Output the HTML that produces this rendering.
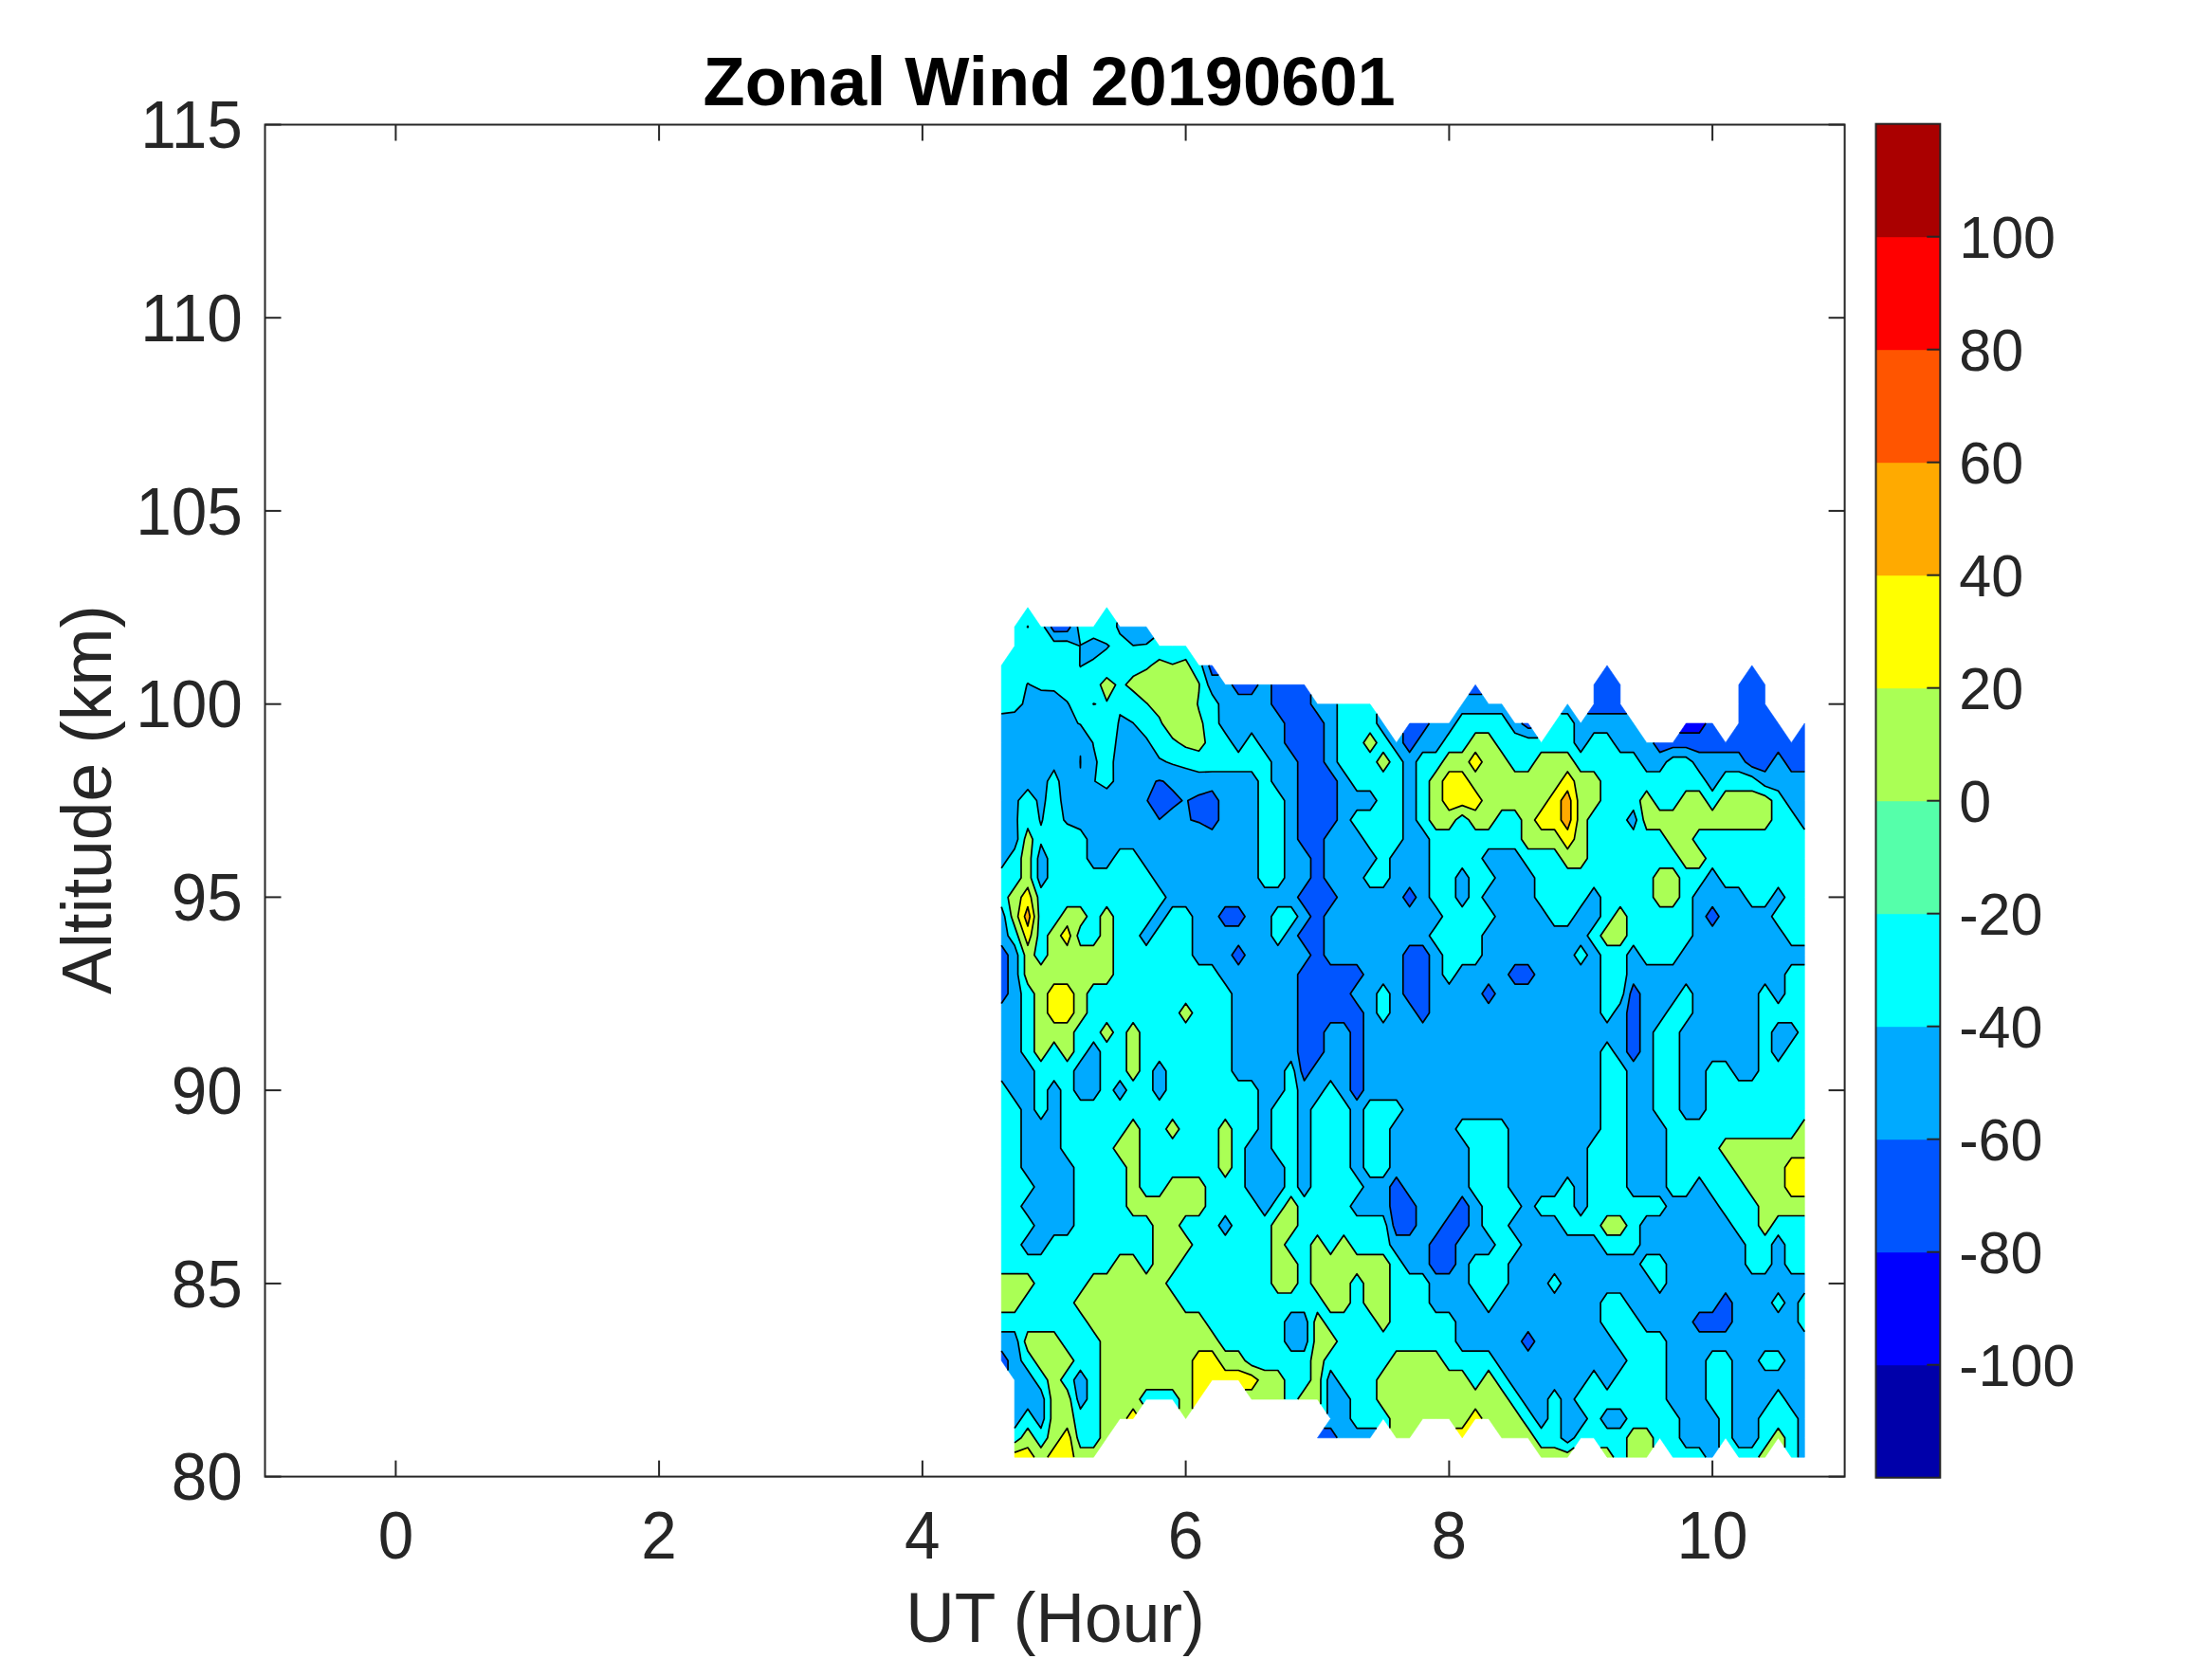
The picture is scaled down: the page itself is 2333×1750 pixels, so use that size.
<!DOCTYPE html>
<html><head><meta charset="utf-8"><title>Zonal Wind 20190601</title>
<style>
html,body{margin:0;padding:0;background:#fff;}
svg{display:block;}
.t{font-family:"Liberation Sans",Arial,sans-serif;font-size:67.5px;fill:#262626;}
.l{font-family:"Liberation Sans",Arial,sans-serif;font-size:74.2px;fill:#262626;}
.c{font-family:"Liberation Sans",Arial,sans-serif;font-size:60.7px;fill:#262626;}
.ti{font-family:"Liberation Sans",Arial,sans-serif;font-size:74.2px;font-weight:bold;fill:#000;}
</style></head><body>
<svg xmlns="http://www.w3.org/2000/svg" width="2333" height="1750" viewBox="0 0 2333 1750">
<rect width="2333" height="1750" fill="#fff"/>
<path d="M1778.3 773.2L1792.2 773.2L1799.2 763.0L1792.2 763.0L1778.3 763.0L1771.4 773.2Z" fill="#0000FF" fill-rule="evenodd" stroke="#0000FF" stroke-width="0.6"/>
<path d="M1403.4 1516.8L1410.3 1516.8L1403.4 1506.6L1396.4 1506.6L1389.5 1516.8ZM1063.1 1435.3L1056.2 1425.1L1056.2 1435.3L1063.1 1445.5ZM1611.7 1425.1L1618.6 1415.0L1611.7 1404.8L1604.7 1415.0ZM1792.2 1404.8L1806.1 1404.8L1820.0 1404.8L1826.9 1394.6L1826.9 1374.2L1820.0 1364.0L1813.0 1374.2L1806.1 1384.4L1792.2 1384.4L1785.3 1394.6ZM1514.5 1343.7L1528.4 1343.7L1535.3 1333.5L1535.3 1313.1L1542.2 1302.9L1549.2 1292.7L1549.2 1272.4L1542.2 1262.2L1535.3 1272.4L1528.4 1282.5L1521.4 1292.7L1514.5 1302.9L1507.5 1313.1L1507.5 1333.5ZM1472.8 1302.9L1486.7 1302.9L1493.6 1292.7L1493.6 1272.4L1486.7 1262.2L1479.8 1252.0L1472.8 1241.8L1465.9 1252.0L1465.9 1272.4L1469.3 1292.7ZM1431.1 1160.3L1438.1 1150.1L1438.1 1129.7L1438.1 1109.4L1438.1 1089.0L1438.1 1068.6L1431.1 1058.4L1424.2 1048.2L1431.1 1038.1L1438.1 1027.9L1431.1 1017.7L1417.3 1017.7L1403.4 1017.7L1396.4 1007.5L1396.4 987.1L1396.4 966.8L1403.4 956.6L1410.3 946.4L1403.4 936.2L1396.4 926.0L1396.4 905.6L1396.4 885.3L1403.4 875.1L1410.3 864.9L1410.3 844.5L1410.3 824.1L1403.4 814.0L1396.4 803.8L1396.4 783.4L1396.4 763.0L1389.5 752.8L1382.5 742.7L1382.5 732.5L1375.6 722.3L1361.7 722.3L1347.8 722.3L1340.9 722.3L1340.9 742.7L1347.8 752.8L1354.8 763.0L1354.8 783.4L1361.7 793.6L1368.7 803.8L1368.7 824.1L1368.7 844.5L1368.7 864.9L1368.7 885.3L1375.6 895.5L1382.5 905.6L1382.5 926.0L1375.6 936.2L1368.7 946.4L1375.6 956.6L1382.5 966.8L1375.6 976.9L1368.7 987.1L1375.6 997.3L1382.5 1007.5L1375.6 1017.7L1368.7 1027.9L1368.7 1048.2L1368.7 1068.6L1368.7 1089.0L1368.7 1109.4L1372.1 1129.7L1375.6 1139.9L1382.5 1129.7L1389.5 1119.6L1396.4 1109.4L1396.4 1089.0L1403.4 1078.8L1417.3 1078.8L1424.2 1089.0L1424.2 1109.4L1424.2 1129.7L1424.2 1150.1ZM1722.8 1119.6L1729.7 1109.4L1729.7 1089.0L1729.7 1068.6L1729.7 1048.2L1722.8 1038.1L1719.3 1048.2L1715.8 1068.6L1715.8 1089.0L1715.8 1109.4ZM1500.6 1078.8L1507.5 1068.6L1507.5 1048.2L1507.5 1027.9L1507.5 1007.5L1500.6 997.3L1486.7 997.3L1479.8 1007.5L1479.8 1027.9L1479.8 1048.2L1486.7 1058.4L1493.6 1068.6ZM1063.1 1048.2L1063.1 1027.9L1063.1 1007.5L1056.2 997.3L1056.2 1007.5L1056.2 1027.9L1056.2 1048.2L1056.2 1058.4ZM1570.0 1058.4L1577.0 1048.2L1570.0 1038.1L1563.1 1048.2ZM1597.8 1038.1L1611.7 1038.1L1618.6 1027.9L1611.7 1017.7L1597.8 1017.7L1590.8 1027.9ZM1306.2 1017.7L1313.1 1007.5L1306.2 997.3L1299.2 1007.5ZM1292.3 976.9L1306.2 976.9L1313.1 966.8L1306.2 956.6L1292.3 956.6L1285.3 966.8ZM1806.1 976.9L1813.0 966.8L1806.1 956.6L1799.2 966.8ZM1486.7 956.6L1493.6 946.4L1486.7 936.2L1479.8 946.4ZM1264.5 867.6L1278.4 875.1L1285.3 864.9L1285.3 844.5L1278.4 834.3L1264.5 838.6L1252.8 844.5L1256.0 864.9ZM1222.8 864.3L1236.7 852.3L1246.8 844.5L1236.7 833.7L1226.9 824.1L1222.8 823.1L1219.2 824.1L1210.1 844.5ZM1139.5 809.9L1139.7 803.8L1139.5 797.7L1139.2 803.8ZM1847.8 808.9L1861.6 814.0L1868.6 803.8L1875.5 793.6L1882.5 803.8L1889.4 814.0L1903.3 814.0L1903.3 803.8L1903.3 783.4L1903.3 763.0L1889.4 783.4L1875.5 763.0L1861.6 742.7L1861.6 722.3L1847.8 701.9L1833.9 722.3L1833.9 742.7L1833.9 763.0L1820.0 783.4L1806.1 763.0L1799.2 763.0L1792.2 773.2L1778.3 773.2L1771.4 773.2L1764.4 783.4L1750.6 783.4L1743.6 783.4L1750.6 793.6L1764.4 788.5L1778.3 788.5L1792.2 793.6L1806.1 793.6L1820.0 793.6L1833.9 793.6L1840.8 803.8ZM1486.7 793.6L1493.6 783.4L1500.6 773.2L1507.5 763.0L1500.6 763.0L1486.7 763.0L1479.8 773.2L1479.8 783.4ZM1611.7 768.1L1615.2 768.1L1611.7 763.0L1604.7 763.0ZM1681.1 752.8L1695.0 752.8L1708.9 752.8L1715.8 752.8L1708.9 742.7L1708.9 722.3L1695.0 701.9L1681.1 722.3L1681.1 742.7L1674.2 752.8ZM1306.2 732.5L1320.1 732.5L1327.0 722.3L1320.1 722.3L1306.2 722.3L1299.2 722.3ZM1556.1 732.5L1563.1 732.5L1556.1 722.3L1549.2 732.5ZM1278.4 712.1L1285.3 712.1L1278.4 701.9L1274.8 701.9ZM1111.7 666.3L1125.6 666.2L1129.2 661.2L1125.6 661.2L1111.7 661.2L1108.3 661.2Z" fill="#0055FF" fill-rule="evenodd" stroke="#0055FF" stroke-width="0.6"/>
<path d="M1653.3 1521.9L1660.3 1516.8L1667.2 1506.6L1674.2 1496.5L1667.2 1486.3L1660.3 1476.1L1667.2 1465.9L1674.2 1455.7L1681.1 1445.5L1688.1 1455.7L1695.0 1465.9L1701.9 1455.7L1708.9 1445.5L1715.8 1435.3L1708.9 1425.1L1701.9 1415.0L1695.0 1404.8L1688.1 1394.6L1688.1 1374.2L1695.0 1364.0L1708.9 1364.0L1715.8 1374.2L1722.8 1384.4L1729.7 1394.6L1736.7 1404.8L1750.6 1404.8L1757.5 1415.0L1757.5 1435.3L1757.5 1455.7L1757.5 1476.1L1764.4 1486.3L1771.4 1496.5L1771.4 1516.8L1778.3 1527.0L1792.2 1527.0L1799.2 1537.2L1806.1 1537.2L1813.0 1527.0L1813.0 1516.8L1813.0 1496.5L1806.1 1486.3L1799.2 1476.1L1799.2 1455.7L1799.2 1435.3L1806.1 1425.1L1820.0 1425.1L1826.9 1435.3L1826.9 1455.7L1826.9 1476.1L1826.9 1496.5L1826.9 1516.8L1833.9 1527.0L1847.8 1527.0L1854.7 1516.8L1854.7 1496.5L1861.6 1486.3L1868.6 1476.1L1875.5 1465.9L1882.5 1476.1L1889.4 1486.3L1896.4 1496.5L1896.4 1516.8L1896.4 1537.2L1903.3 1537.2L1903.3 1516.8L1903.3 1496.5L1903.3 1476.1L1903.3 1455.7L1903.3 1435.3L1903.3 1415.0L1903.3 1404.8L1896.4 1394.6L1896.4 1374.2L1903.3 1364.0L1903.3 1353.8L1903.3 1343.7L1889.4 1343.7L1882.5 1333.5L1882.5 1313.1L1875.5 1302.9L1868.6 1313.1L1868.6 1333.5L1861.6 1343.7L1847.8 1343.7L1840.8 1333.5L1840.8 1313.1L1833.9 1302.9L1826.9 1292.7L1820.0 1282.5L1813.0 1272.4L1806.1 1262.2L1799.2 1252.0L1792.2 1241.8L1785.3 1252.0L1778.3 1262.2L1764.4 1262.2L1757.5 1252.0L1757.5 1231.6L1757.5 1211.2L1757.5 1190.9L1750.6 1180.7L1743.6 1170.5L1743.6 1150.1L1743.6 1129.7L1743.6 1109.4L1743.6 1089.0L1750.6 1078.8L1757.5 1068.6L1764.4 1058.4L1771.4 1048.2L1778.3 1038.1L1785.3 1048.2L1785.3 1068.6L1778.3 1078.8L1771.4 1089.0L1771.4 1109.4L1771.4 1129.7L1771.4 1150.1L1771.4 1170.5L1778.3 1180.7L1792.2 1180.7L1799.2 1170.5L1799.2 1150.1L1799.2 1129.7L1806.1 1119.6L1820.0 1119.6L1826.9 1129.7L1833.9 1139.9L1847.8 1139.9L1854.7 1129.7L1854.7 1109.4L1854.7 1089.0L1854.7 1068.6L1854.7 1048.2L1861.6 1038.1L1868.6 1048.2L1875.5 1058.4L1882.5 1048.2L1882.5 1027.9L1889.4 1017.7L1903.3 1017.7L1903.3 1007.5L1903.3 997.3L1889.4 997.3L1882.5 987.1L1875.5 976.9L1868.6 966.8L1875.5 956.6L1882.5 946.4L1875.5 936.2L1868.6 946.4L1861.6 956.6L1847.8 956.6L1840.8 946.4L1833.9 936.2L1820.0 936.2L1813.0 926.0L1806.1 915.8L1799.2 926.0L1792.2 936.2L1785.3 946.4L1785.3 966.8L1785.3 987.1L1778.3 997.3L1771.4 1007.5L1764.4 1017.7L1750.6 1017.7L1736.7 1017.7L1729.7 1007.5L1722.8 997.3L1715.8 1007.5L1715.8 1027.9L1712.4 1048.2L1708.9 1058.4L1701.9 1068.6L1695.0 1078.8L1688.1 1068.6L1688.1 1048.2L1688.1 1027.9L1688.1 1007.5L1681.1 997.3L1674.2 987.1L1681.1 976.9L1688.1 966.8L1688.1 946.4L1681.1 936.2L1674.2 946.4L1667.2 956.6L1660.3 966.8L1653.3 976.9L1639.5 976.9L1632.5 966.8L1625.6 956.6L1618.6 946.4L1618.6 926.0L1611.7 915.8L1604.7 905.6L1597.8 895.5L1583.9 895.5L1570.0 895.5L1563.1 905.6L1570.0 915.8L1577.0 926.0L1570.0 936.2L1563.1 946.4L1570.0 956.6L1577.0 966.8L1570.0 976.9L1563.1 987.1L1563.1 1007.5L1556.1 1017.7L1542.2 1017.7L1535.3 1027.9L1528.4 1038.1L1521.4 1027.9L1521.4 1007.5L1514.5 997.3L1507.5 987.1L1514.5 976.9L1521.4 966.8L1514.5 956.6L1507.5 946.4L1507.5 926.0L1507.5 905.6L1507.5 885.3L1500.6 875.1L1493.6 864.9L1493.6 844.5L1493.6 824.1L1493.6 803.8L1500.6 793.6L1514.5 793.6L1521.4 783.4L1528.4 773.2L1535.3 763.0L1542.2 752.8L1556.1 752.8L1570.0 752.8L1583.9 752.8L1590.8 763.0L1597.8 773.2L1611.7 778.3L1622.1 778.3L1615.2 768.1L1611.7 768.1L1604.7 763.0L1597.8 763.0L1583.9 742.7L1570.0 742.7L1563.1 732.5L1556.1 732.5L1549.2 732.5L1542.2 742.7L1528.4 763.0L1514.5 763.0L1507.5 763.0L1500.6 773.2L1493.6 783.4L1486.7 793.6L1479.8 783.4L1479.8 773.2L1472.8 783.4L1458.9 763.0L1452.0 752.8L1452.0 763.0L1458.9 773.2L1465.9 783.4L1472.8 793.6L1479.8 803.8L1479.8 824.1L1479.8 844.5L1479.8 864.9L1479.8 885.3L1472.8 895.5L1465.9 905.6L1465.9 926.0L1458.9 936.2L1445.0 936.2L1438.1 926.0L1445.0 915.8L1452.0 905.6L1445.0 895.5L1438.1 885.3L1431.1 875.1L1424.2 864.9L1431.1 854.7L1445.0 854.7L1452.0 844.5L1445.0 834.3L1431.1 834.3L1424.2 824.1L1417.3 814.0L1410.3 803.8L1410.3 783.4L1410.3 763.0L1410.3 742.7L1403.4 742.7L1389.5 742.7L1382.5 732.5L1382.5 742.7L1389.5 752.8L1396.4 763.0L1396.4 783.4L1396.4 803.8L1403.4 814.0L1410.3 824.1L1410.3 844.5L1410.3 864.9L1403.4 875.1L1396.4 885.3L1396.4 905.6L1396.4 926.0L1403.4 936.2L1410.3 946.4L1403.4 956.6L1396.4 966.8L1396.4 987.1L1396.4 1007.5L1403.4 1017.7L1417.3 1017.7L1431.1 1017.7L1438.1 1027.9L1431.1 1038.1L1424.2 1048.2L1431.1 1058.4L1438.1 1068.6L1438.1 1089.0L1438.1 1109.4L1438.1 1129.7L1438.1 1150.1L1431.1 1160.3L1424.2 1150.1L1424.2 1129.7L1424.2 1109.4L1424.2 1089.0L1417.3 1078.8L1403.4 1078.8L1396.4 1089.0L1396.4 1109.4L1389.5 1119.6L1382.5 1129.7L1375.6 1139.9L1372.1 1129.7L1368.7 1109.4L1368.7 1089.0L1368.7 1068.6L1368.7 1048.2L1368.7 1027.9L1375.6 1017.7L1382.5 1007.5L1375.6 997.3L1368.7 987.1L1375.6 976.9L1382.5 966.8L1375.6 956.6L1368.7 946.4L1375.6 936.2L1382.5 926.0L1382.5 905.6L1375.6 895.5L1368.7 885.3L1368.7 864.9L1368.7 844.5L1368.7 824.1L1368.7 803.8L1361.7 793.6L1354.8 783.4L1354.8 763.0L1347.8 752.8L1340.9 742.7L1340.9 722.3L1333.9 722.3L1327.0 722.3L1320.1 732.5L1306.2 732.5L1299.2 722.3L1292.3 722.3L1285.3 712.1L1278.4 712.1L1274.8 701.9L1267.7 701.9L1273.9 722.3L1278.4 732.5L1285.3 742.7L1285.6 763.0L1292.3 773.2L1299.2 783.4L1306.2 793.6L1313.1 783.4L1320.1 773.2L1327.0 783.4L1333.9 793.6L1340.9 803.8L1340.9 824.1L1347.8 834.3L1354.8 844.5L1354.8 864.9L1354.8 885.3L1354.8 905.6L1354.8 926.0L1347.8 936.2L1333.9 936.2L1327.0 926.0L1327.0 905.6L1327.0 885.3L1327.0 864.9L1327.0 844.5L1327.0 824.1L1320.1 814.0L1306.2 814.0L1292.3 814.0L1278.4 814.0L1264.5 814.5L1250.6 810.5L1236.7 806.3L1230.2 803.8L1222.8 799.7L1212.3 783.4L1209.0 778.2L1195.5 763.0L1195.1 762.4L1181.2 753.9L1179.4 763.0L1176.8 783.4L1174.2 803.8L1174.3 824.1L1167.3 831.9L1154.9 824.1L1157.0 803.8L1153.4 788.3L1152.6 783.4L1139.5 764.2L1136.8 763.0L1127.2 742.7L1125.6 740.2L1111.7 728.8L1097.9 728.1L1086.2 722.3L1084.0 720.8L1083.0 722.3L1078.4 742.7L1070.1 751.2L1056.2 752.8L1056.2 763.0L1056.2 783.4L1056.2 803.8L1056.2 824.1L1056.2 844.5L1056.2 864.9L1056.2 885.3L1056.2 905.6L1056.2 915.8L1063.1 905.6L1070.1 895.5L1073.6 885.3L1073.1 864.9L1074.0 844.5L1084.0 832.8L1093.4 844.5L1096.4 864.9L1097.9 870.4L1099.6 864.9L1102.6 844.5L1104.7 824.1L1111.7 812.4L1116.9 824.1L1118.9 844.5L1121.9 864.9L1125.6 869.1L1139.5 875.1L1146.5 885.3L1146.5 905.6L1153.4 915.8L1167.3 915.8L1174.2 905.6L1181.2 895.5L1195.1 895.5L1202.0 905.6L1209.0 915.8L1215.9 926.0L1222.8 936.2L1229.8 946.4L1222.8 956.6L1215.9 966.8L1209.0 976.9L1202.0 987.1L1209.0 997.3L1215.9 987.1L1222.8 976.9L1229.8 966.8L1236.7 956.6L1250.6 956.6L1257.6 966.8L1257.6 987.1L1257.6 1007.5L1264.5 1017.7L1278.4 1017.7L1285.3 1027.9L1292.3 1038.1L1299.2 1048.2L1299.2 1068.6L1299.2 1089.0L1299.2 1109.4L1299.2 1129.7L1306.2 1139.9L1320.1 1139.9L1327.0 1150.1L1327.0 1170.5L1327.0 1190.9L1320.1 1201.0L1313.1 1211.2L1313.1 1231.6L1313.1 1252.0L1320.1 1262.2L1327.0 1272.4L1333.9 1282.5L1340.9 1272.4L1347.8 1262.2L1354.8 1252.0L1354.8 1231.6L1347.8 1221.4L1340.9 1211.2L1340.9 1190.9L1340.9 1170.5L1347.8 1160.3L1354.8 1150.1L1354.8 1129.7L1361.7 1119.6L1365.2 1129.7L1368.7 1150.1L1368.7 1170.5L1368.7 1190.9L1368.7 1211.2L1368.7 1231.6L1368.7 1252.0L1375.6 1262.2L1382.5 1252.0L1382.5 1231.6L1382.5 1211.2L1382.5 1190.9L1382.5 1170.5L1389.5 1160.3L1396.4 1150.1L1403.4 1139.9L1410.3 1150.1L1417.3 1160.3L1424.2 1170.5L1424.2 1190.9L1424.2 1211.2L1424.2 1231.6L1431.1 1241.8L1438.1 1252.0L1431.1 1262.2L1424.2 1272.4L1431.1 1282.5L1445.0 1282.5L1458.9 1282.5L1462.4 1292.7L1465.9 1313.1L1472.8 1323.3L1479.8 1333.5L1486.7 1343.7L1500.6 1343.7L1507.5 1353.8L1507.5 1374.2L1514.5 1384.4L1528.4 1384.4L1535.3 1394.6L1535.3 1415.0L1542.2 1425.1L1556.1 1425.1L1570.0 1425.1L1577.0 1435.3L1583.9 1445.5L1590.8 1455.7L1597.8 1465.9L1604.7 1476.1L1611.7 1486.3L1618.6 1496.5L1625.6 1506.6L1632.5 1496.5L1632.5 1476.1L1639.5 1465.9L1646.4 1476.1L1646.4 1496.5L1646.4 1516.8ZM1854.7 1435.3L1861.6 1425.1L1875.5 1425.1L1882.5 1435.3L1875.5 1445.5L1861.6 1445.5ZM1604.7 1415.0L1611.7 1404.8L1618.6 1415.0L1611.7 1425.1ZM1785.3 1394.6L1792.2 1384.4L1806.1 1384.4L1813.0 1374.2L1820.0 1364.0L1826.9 1374.2L1826.9 1394.6L1820.0 1404.8L1806.1 1404.8L1792.2 1404.8ZM1563.1 1374.2L1556.1 1364.0L1549.2 1353.8L1549.2 1333.5L1556.1 1323.3L1570.0 1323.3L1577.0 1313.1L1570.0 1302.9L1563.1 1292.7L1563.1 1272.4L1556.1 1262.2L1549.2 1252.0L1549.2 1231.6L1549.2 1211.2L1542.2 1201.0L1535.3 1190.9L1542.2 1180.7L1556.1 1180.7L1570.0 1180.7L1583.9 1180.7L1590.8 1190.9L1590.8 1211.2L1590.8 1231.6L1590.8 1252.0L1597.8 1262.2L1604.7 1272.4L1597.8 1282.5L1590.8 1292.7L1597.8 1302.9L1604.7 1313.1L1597.8 1323.3L1590.8 1333.5L1590.8 1353.8L1583.9 1364.0L1577.0 1374.2L1570.0 1384.4ZM1868.6 1374.2L1875.5 1364.0L1882.5 1374.2L1875.5 1384.4ZM1632.5 1353.8L1639.5 1343.7L1646.4 1353.8L1639.5 1364.0ZM1743.6 1353.8L1736.7 1343.7L1729.7 1333.5L1736.7 1323.3L1750.6 1323.3L1757.5 1333.5L1757.5 1353.8L1750.6 1364.0ZM1507.5 1333.5L1507.5 1313.1L1514.5 1302.9L1521.4 1292.7L1528.4 1282.5L1535.3 1272.4L1542.2 1262.2L1549.2 1272.4L1549.2 1292.7L1542.2 1302.9L1535.3 1313.1L1535.3 1333.5L1528.4 1343.7L1514.5 1343.7ZM1688.1 1313.1L1681.1 1302.9L1667.2 1302.9L1653.3 1302.9L1646.4 1292.7L1639.5 1282.5L1625.6 1282.5L1618.6 1272.4L1625.6 1262.2L1639.5 1262.2L1646.4 1252.0L1653.3 1241.8L1660.3 1252.0L1660.3 1272.4L1667.2 1282.5L1674.2 1272.4L1674.2 1252.0L1674.2 1231.6L1674.2 1211.2L1681.1 1201.0L1688.1 1190.9L1688.1 1170.5L1688.1 1150.1L1688.1 1129.7L1688.1 1109.4L1695.0 1099.2L1701.9 1109.4L1708.9 1119.6L1715.8 1129.7L1715.8 1150.1L1715.8 1170.5L1715.8 1190.9L1715.8 1211.2L1715.8 1231.6L1715.8 1252.0L1722.8 1262.2L1736.7 1262.2L1750.6 1262.2L1757.5 1272.4L1750.6 1282.5L1736.7 1282.5L1729.7 1292.7L1729.7 1313.1L1722.8 1323.3L1708.9 1323.3L1695.0 1323.3ZM1469.3 1292.7L1465.9 1272.4L1465.9 1252.0L1472.8 1241.8L1479.8 1252.0L1486.7 1262.2L1493.6 1272.4L1493.6 1292.7L1486.7 1302.9L1472.8 1302.9ZM1438.1 1231.6L1438.1 1211.2L1438.1 1190.9L1438.1 1170.5L1445.0 1160.3L1458.9 1160.3L1472.8 1160.3L1479.8 1170.5L1472.8 1180.7L1465.9 1190.9L1465.9 1211.2L1465.9 1231.6L1458.9 1241.8L1445.0 1241.8ZM1715.8 1109.4L1715.8 1089.0L1715.8 1068.6L1719.3 1048.2L1722.8 1038.1L1729.7 1048.2L1729.7 1068.6L1729.7 1089.0L1729.7 1109.4L1722.8 1119.6ZM1452.0 1068.6L1452.0 1048.2L1458.9 1038.1L1465.9 1048.2L1465.9 1068.6L1458.9 1078.8ZM1493.6 1068.6L1486.7 1058.4L1479.8 1048.2L1479.8 1027.9L1479.8 1007.5L1486.7 997.3L1500.6 997.3L1507.5 1007.5L1507.5 1027.9L1507.5 1048.2L1507.5 1068.6L1500.6 1078.8ZM1563.1 1048.2L1570.0 1038.1L1577.0 1048.2L1570.0 1058.4ZM1590.8 1027.9L1597.8 1017.7L1611.7 1017.7L1618.6 1027.9L1611.7 1038.1L1597.8 1038.1ZM1299.2 1007.5L1306.2 997.3L1313.1 1007.5L1306.2 1017.7ZM1660.3 1007.5L1667.2 997.3L1674.2 1007.5L1667.2 1017.7ZM1340.9 987.1L1340.9 966.8L1347.8 956.6L1361.7 956.6L1368.7 966.8L1361.7 976.9L1354.8 987.1L1347.8 997.3ZM1285.3 966.8L1292.3 956.6L1306.2 956.6L1313.1 966.8L1306.2 976.9L1292.3 976.9ZM1799.2 966.8L1806.1 956.6L1813.0 966.8L1806.1 976.9ZM1479.8 946.4L1486.7 936.2L1493.6 946.4L1486.7 956.6ZM1256.0 864.9L1252.8 844.5L1264.5 838.6L1278.4 834.3L1285.3 844.5L1285.3 864.9L1278.4 875.1L1264.5 867.6ZM1210.1 844.5L1219.2 824.1L1222.8 823.1L1226.9 824.1L1236.7 833.7L1246.8 844.5L1236.7 852.3L1222.8 864.3ZM1139.2 803.8L1139.5 797.7L1139.7 803.8L1139.5 809.9ZM1077.0 1496.5L1084.0 1486.3L1090.9 1496.5L1097.9 1506.6L1101.3 1496.5L1101.3 1476.1L1097.9 1465.9L1090.9 1455.7L1084.0 1445.5L1077.0 1435.3L1073.6 1415.0L1070.1 1404.8L1056.2 1404.8L1056.2 1415.0L1056.2 1425.1L1063.1 1435.3L1063.1 1445.5L1070.1 1455.7L1070.1 1476.1L1070.1 1496.5L1070.1 1506.6ZM1403.4 1506.6L1410.3 1516.8L1417.3 1516.8L1431.1 1516.8L1445.0 1516.8L1452.0 1506.6L1445.0 1506.6L1431.1 1506.6L1424.2 1496.5L1424.2 1476.1L1417.3 1465.9L1410.3 1455.7L1403.4 1445.5L1399.9 1455.7L1399.9 1476.1L1399.9 1491.4L1403.4 1496.5L1396.4 1506.6ZM1695.0 1506.6L1708.9 1506.6L1715.8 1496.5L1708.9 1486.3L1695.0 1486.3L1688.1 1496.5ZM1139.5 1486.3L1146.5 1476.1L1146.5 1455.7L1139.5 1445.5L1132.6 1455.7L1136.1 1476.1ZM1361.7 1425.1L1375.6 1425.1L1379.1 1415.0L1379.1 1394.6L1375.6 1384.4L1361.7 1384.4L1354.8 1394.6L1354.8 1415.0ZM1084.0 1323.3L1097.9 1323.3L1104.8 1313.1L1111.7 1302.9L1125.6 1302.9L1132.6 1292.7L1132.6 1272.4L1132.6 1252.0L1132.6 1231.6L1125.6 1221.4L1118.7 1211.2L1118.7 1190.9L1118.7 1170.5L1118.7 1150.1L1111.7 1139.9L1104.8 1150.1L1104.8 1170.5L1097.9 1180.7L1090.9 1170.5L1090.9 1150.1L1090.9 1129.7L1084.0 1119.6L1077.0 1109.4L1077.0 1089.0L1077.0 1068.6L1077.0 1048.2L1073.6 1027.9L1073.6 1007.5L1070.1 997.3L1063.1 987.1L1059.7 966.8L1056.2 956.6L1056.2 966.8L1056.2 987.1L1056.2 997.3L1063.1 1007.5L1063.1 1027.9L1063.1 1048.2L1056.2 1058.4L1056.2 1068.6L1056.2 1089.0L1056.2 1109.4L1056.2 1129.7L1056.2 1139.9L1063.1 1150.1L1070.1 1160.3L1077.0 1170.5L1077.0 1190.9L1077.0 1211.2L1077.0 1231.6L1084.0 1241.8L1090.9 1252.0L1084.0 1262.2L1077.0 1272.4L1084.0 1282.5L1090.9 1292.7L1084.0 1302.9L1077.0 1313.1ZM1292.3 1302.9L1299.2 1292.7L1292.3 1282.5L1285.3 1292.7ZM1139.5 1160.3L1153.4 1160.3L1160.4 1150.1L1160.4 1129.7L1160.4 1109.4L1153.4 1099.2L1146.5 1109.4L1139.5 1119.6L1132.6 1129.7L1132.6 1150.1ZM1181.2 1160.3L1188.1 1150.1L1181.2 1139.9L1174.2 1150.1ZM1222.8 1160.3L1229.8 1150.1L1229.8 1129.7L1222.8 1119.6L1215.9 1129.7L1215.9 1150.1ZM1875.5 1119.6L1882.5 1109.4L1889.4 1099.2L1896.4 1089.0L1889.4 1078.8L1875.5 1078.8L1868.6 1089.0L1868.6 1109.4ZM1542.2 956.6L1549.2 946.4L1549.2 926.0L1542.2 915.8L1535.3 926.0L1535.3 946.4ZM1097.9 936.2L1104.8 926.0L1104.8 905.6L1097.9 890.7L1094.4 905.6L1094.4 926.0ZM1722.8 875.1L1726.2 864.9L1722.8 854.7L1715.8 864.9ZM1903.3 875.1L1903.3 864.9L1903.3 844.5L1903.3 824.1L1903.3 814.0L1889.4 814.0L1882.5 803.8L1875.5 793.6L1868.6 803.8L1861.6 814.0L1847.8 808.9L1840.8 803.8L1833.9 793.6L1820.0 793.6L1806.1 793.6L1792.2 793.6L1778.3 788.5L1764.4 788.5L1750.6 793.6L1743.6 783.4L1736.7 783.4L1722.8 763.0L1715.8 752.8L1708.9 752.8L1695.0 752.8L1681.1 752.8L1674.2 752.8L1667.2 763.0L1653.3 742.7L1646.4 752.8L1653.3 752.8L1660.3 763.0L1660.3 783.4L1667.2 793.6L1674.2 783.4L1681.1 773.2L1695.0 773.2L1701.9 783.4L1708.9 793.6L1722.8 793.6L1729.7 803.8L1736.7 814.0L1750.6 814.0L1757.5 803.8L1764.4 798.7L1778.3 798.7L1785.3 803.8L1792.2 814.0L1799.2 824.1L1806.1 834.3L1813.0 824.1L1820.0 814.0L1833.9 814.0L1847.8 819.1L1854.7 824.1L1861.6 829.2L1875.5 834.3L1882.5 844.5L1889.4 854.7L1896.4 864.9ZM1139.5 703.4L1141.6 701.9L1153.4 695.2L1167.3 684.3L1169.8 681.5L1167.3 679.3L1153.4 673.3L1139.5 680.6L1136.4 661.2L1129.2 661.2L1125.6 666.2L1111.7 666.3L1108.3 661.2L1101.3 661.2L1111.7 676.4L1125.6 676.2L1139.0 681.5L1138.8 701.9ZM1084.0 661.8L1084.4 661.2L1084.0 660.5L1083.5 661.2ZM1181.2 668.6L1195.1 680.8L1209.0 679.5L1217.0 673.0L1209.0 661.2L1195.1 661.2L1181.2 661.2L1178.1 656.6L1177.8 661.2Z" fill="#00AAFF" fill-rule="evenodd" stroke="#00AAFF" stroke-width="0.6"/>
<path d="M1077.0 1516.8L1084.0 1506.6L1090.9 1516.8L1097.9 1527.0L1104.8 1516.8L1108.3 1496.5L1108.3 1476.1L1104.8 1455.7L1097.9 1445.5L1090.9 1435.3L1084.0 1425.1L1080.5 1415.0L1084.0 1404.8L1097.9 1404.8L1111.7 1404.8L1118.7 1415.0L1125.6 1425.1L1132.6 1435.3L1125.6 1445.5L1118.7 1455.7L1125.6 1465.9L1129.1 1476.1L1132.6 1496.5L1136.1 1516.8L1139.5 1527.0L1153.4 1527.0L1160.4 1516.8L1160.4 1496.5L1160.4 1476.1L1160.4 1455.7L1160.4 1435.3L1160.4 1415.0L1153.4 1404.8L1146.5 1394.6L1139.5 1384.4L1132.6 1374.2L1139.5 1364.0L1146.5 1353.8L1153.4 1343.7L1167.3 1343.7L1174.2 1333.5L1181.2 1323.3L1195.1 1323.3L1202.0 1333.5L1209.0 1343.7L1215.9 1333.5L1215.9 1313.1L1215.9 1292.7L1209.0 1282.5L1195.1 1282.5L1188.1 1272.4L1188.1 1252.0L1188.1 1231.6L1181.2 1221.4L1174.2 1211.2L1181.2 1201.0L1188.1 1190.9L1195.1 1180.7L1202.0 1190.9L1202.0 1211.2L1202.0 1231.6L1202.0 1252.0L1209.0 1262.2L1222.8 1262.2L1229.8 1252.0L1236.7 1241.8L1250.6 1241.8L1264.5 1241.8L1271.4 1252.0L1271.4 1272.4L1264.5 1282.5L1250.6 1282.5L1243.7 1292.7L1250.6 1302.9L1257.6 1313.1L1250.6 1323.3L1243.7 1333.5L1236.7 1343.7L1229.8 1353.8L1236.7 1364.0L1243.7 1374.2L1250.6 1384.4L1264.5 1384.4L1271.4 1394.6L1278.4 1404.8L1285.3 1415.0L1292.3 1425.1L1306.2 1425.1L1313.1 1435.3L1320.1 1440.4L1333.9 1445.5L1347.8 1445.5L1354.8 1455.7L1354.8 1476.1L1361.7 1476.1L1368.7 1476.1L1375.6 1465.9L1382.5 1455.7L1382.5 1435.3L1386.0 1415.0L1386.0 1394.6L1389.5 1384.4L1396.4 1394.6L1403.4 1404.8L1410.3 1415.0L1403.4 1425.1L1396.4 1435.3L1393.0 1455.7L1393.0 1476.1L1393.0 1481.2L1399.9 1491.4L1399.9 1476.1L1399.9 1455.7L1403.4 1445.5L1410.3 1455.7L1417.3 1465.9L1424.2 1476.1L1424.2 1496.5L1431.1 1506.6L1445.0 1506.6L1452.0 1506.6L1458.9 1496.5L1465.9 1506.6L1465.9 1496.5L1458.9 1486.3L1452.0 1476.1L1452.0 1455.7L1458.9 1445.5L1465.9 1435.3L1472.8 1425.1L1486.7 1425.1L1500.6 1425.1L1514.5 1425.1L1521.4 1435.3L1528.4 1445.5L1542.2 1445.5L1549.2 1455.7L1556.1 1465.9L1563.1 1455.7L1570.0 1445.5L1577.0 1455.7L1583.9 1465.9L1590.8 1476.1L1597.8 1486.3L1604.7 1496.5L1611.7 1506.6L1618.6 1516.8L1625.6 1527.0L1639.5 1527.0L1653.3 1532.1L1660.3 1527.0L1667.2 1516.8L1681.1 1516.8L1688.1 1527.0L1695.0 1527.0L1701.9 1537.2L1708.9 1537.2L1715.8 1537.2L1715.8 1516.8L1722.8 1506.6L1736.7 1506.6L1743.6 1516.8L1743.6 1527.0L1750.6 1516.8L1764.4 1537.2L1778.3 1537.2L1792.2 1537.2L1799.2 1537.2L1792.2 1527.0L1778.3 1527.0L1771.4 1516.8L1771.4 1496.5L1764.4 1486.3L1757.5 1476.1L1757.5 1455.7L1757.5 1435.3L1757.5 1415.0L1750.6 1404.8L1736.7 1404.8L1729.7 1394.6L1722.8 1384.4L1715.8 1374.2L1708.9 1364.0L1695.0 1364.0L1688.1 1374.2L1688.1 1394.6L1695.0 1404.8L1701.9 1415.0L1708.9 1425.1L1715.8 1435.3L1708.9 1445.5L1701.9 1455.7L1695.0 1465.9L1688.1 1455.7L1681.1 1445.5L1674.2 1455.7L1667.2 1465.9L1660.3 1476.1L1667.2 1486.3L1674.2 1496.5L1667.2 1506.6L1660.3 1516.8L1653.3 1521.9L1646.4 1516.8L1646.4 1496.5L1646.4 1476.1L1639.5 1465.9L1632.5 1476.1L1632.5 1496.5L1625.6 1506.6L1618.6 1496.5L1611.7 1486.3L1604.7 1476.1L1597.8 1465.9L1590.8 1455.7L1583.9 1445.5L1577.0 1435.3L1570.0 1425.1L1556.1 1425.1L1542.2 1425.1L1535.3 1415.0L1535.3 1394.6L1528.4 1384.4L1514.5 1384.4L1507.5 1374.2L1507.5 1353.8L1500.6 1343.7L1486.7 1343.7L1479.8 1333.5L1472.8 1323.3L1465.9 1313.1L1462.4 1292.7L1458.9 1282.5L1445.0 1282.5L1431.1 1282.5L1424.2 1272.4L1431.1 1262.2L1438.1 1252.0L1431.1 1241.8L1424.2 1231.6L1424.2 1211.2L1424.2 1190.9L1424.2 1170.5L1417.3 1160.3L1410.3 1150.1L1403.4 1139.9L1396.4 1150.1L1389.5 1160.3L1382.5 1170.5L1382.5 1190.9L1382.5 1211.2L1382.5 1231.6L1382.5 1252.0L1375.6 1262.2L1368.7 1252.0L1368.7 1231.6L1368.7 1211.2L1368.7 1190.9L1368.7 1170.5L1368.7 1150.1L1365.2 1129.7L1361.7 1119.6L1354.8 1129.7L1354.8 1150.1L1347.8 1160.3L1340.9 1170.5L1340.9 1190.9L1340.9 1211.2L1347.8 1221.4L1354.8 1231.6L1354.8 1252.0L1347.8 1262.2L1340.9 1272.4L1333.9 1282.5L1327.0 1272.4L1320.1 1262.2L1313.1 1252.0L1313.1 1231.6L1313.1 1211.2L1320.1 1201.0L1327.0 1190.9L1327.0 1170.5L1327.0 1150.1L1320.1 1139.9L1306.2 1139.9L1299.2 1129.7L1299.2 1109.4L1299.2 1089.0L1299.2 1068.6L1299.2 1048.2L1292.3 1038.1L1285.3 1027.9L1278.4 1017.7L1264.5 1017.7L1257.6 1007.5L1257.6 987.1L1257.6 966.8L1250.6 956.6L1236.7 956.6L1229.8 966.8L1222.8 976.9L1215.9 987.1L1209.0 997.3L1202.0 987.1L1209.0 976.9L1215.9 966.8L1222.8 956.6L1229.8 946.4L1222.8 936.2L1215.9 926.0L1209.0 915.8L1202.0 905.6L1195.1 895.5L1181.2 895.5L1174.2 905.6L1167.3 915.8L1153.4 915.8L1146.5 905.6L1146.5 885.3L1139.5 875.1L1125.6 869.1L1121.9 864.9L1118.9 844.5L1116.9 824.1L1111.7 812.4L1104.7 824.1L1102.6 844.5L1099.6 864.9L1097.9 870.4L1096.4 864.9L1093.4 844.5L1084.0 832.8L1074.0 844.5L1073.1 864.9L1073.6 885.3L1070.1 895.5L1063.1 905.6L1056.2 915.8L1056.2 926.0L1056.2 946.4L1056.2 956.6L1059.7 966.8L1063.1 987.1L1070.1 997.3L1073.6 1007.5L1073.6 1027.9L1077.0 1048.2L1077.0 1068.6L1077.0 1089.0L1077.0 1109.4L1084.0 1119.6L1090.9 1129.7L1090.9 1150.1L1090.9 1170.5L1097.9 1180.7L1104.8 1170.5L1104.8 1150.1L1111.7 1139.9L1118.7 1150.1L1118.7 1170.5L1118.7 1190.9L1118.7 1211.2L1125.6 1221.4L1132.6 1231.6L1132.6 1252.0L1132.6 1272.4L1132.6 1292.7L1125.6 1302.9L1111.7 1302.9L1104.8 1313.1L1097.9 1323.3L1084.0 1323.3L1077.0 1313.1L1084.0 1302.9L1090.9 1292.7L1084.0 1282.5L1077.0 1272.4L1084.0 1262.2L1090.9 1252.0L1084.0 1241.8L1077.0 1231.6L1077.0 1211.2L1077.0 1190.9L1077.0 1170.5L1070.1 1160.3L1063.1 1150.1L1056.2 1139.9L1056.2 1150.1L1056.2 1170.5L1056.2 1190.9L1056.2 1211.2L1056.2 1231.6L1056.2 1252.0L1056.2 1272.4L1056.2 1292.7L1056.2 1313.1L1056.2 1333.5L1056.2 1343.7L1070.1 1343.7L1084.0 1343.7L1090.9 1353.8L1084.0 1364.0L1077.0 1374.2L1070.1 1384.4L1056.2 1384.4L1056.2 1394.6L1056.2 1404.8L1070.1 1404.8L1073.6 1415.0L1077.0 1435.3L1084.0 1445.5L1090.9 1455.7L1097.9 1465.9L1101.3 1476.1L1101.3 1496.5L1097.9 1506.6L1090.9 1496.5L1084.0 1486.3L1077.0 1496.5L1070.1 1506.6L1070.1 1516.8L1070.1 1521.9ZM1688.1 1496.5L1695.0 1486.3L1708.9 1486.3L1715.8 1496.5L1708.9 1506.6L1695.0 1506.6ZM1136.1 1476.1L1132.6 1455.7L1139.5 1445.5L1146.5 1455.7L1146.5 1476.1L1139.5 1486.3ZM1354.8 1415.0L1354.8 1394.6L1361.7 1384.4L1375.6 1384.4L1379.1 1394.6L1379.1 1415.0L1375.6 1425.1L1361.7 1425.1ZM1452.0 1394.6L1445.0 1384.4L1438.1 1374.2L1438.1 1353.8L1431.1 1343.7L1424.2 1353.8L1424.2 1374.2L1417.3 1384.4L1403.4 1384.4L1396.4 1374.2L1389.5 1364.0L1382.5 1353.8L1382.5 1333.5L1382.5 1313.1L1389.5 1302.9L1396.4 1313.1L1403.4 1323.3L1410.3 1313.1L1417.3 1302.9L1424.2 1313.1L1431.1 1323.3L1445.0 1323.3L1458.9 1323.3L1465.9 1333.5L1465.9 1353.8L1465.9 1374.2L1465.9 1394.6L1458.9 1404.8ZM1340.9 1353.8L1340.9 1333.5L1340.9 1313.1L1340.9 1292.7L1347.8 1282.5L1354.8 1272.4L1361.7 1262.2L1368.7 1272.4L1368.7 1292.7L1361.7 1302.9L1354.8 1313.1L1361.7 1323.3L1368.7 1333.5L1368.7 1353.8L1361.7 1364.0L1347.8 1364.0ZM1285.3 1292.7L1292.3 1282.5L1299.2 1292.7L1292.3 1302.9ZM1285.3 1231.6L1285.3 1211.2L1285.3 1190.9L1292.3 1180.7L1299.2 1190.9L1299.2 1211.2L1299.2 1231.6L1292.3 1241.8ZM1229.8 1190.9L1236.7 1180.7L1243.7 1190.9L1236.7 1201.0ZM1132.6 1150.1L1132.6 1129.7L1139.5 1119.6L1146.5 1109.4L1153.4 1099.2L1160.4 1109.4L1160.4 1129.7L1160.4 1150.1L1153.4 1160.3L1139.5 1160.3ZM1174.2 1150.1L1181.2 1139.9L1188.1 1150.1L1181.2 1160.3ZM1215.9 1150.1L1215.9 1129.7L1222.8 1119.6L1229.8 1129.7L1229.8 1150.1L1222.8 1160.3ZM1188.1 1129.7L1188.1 1109.4L1188.1 1089.0L1195.1 1078.8L1202.0 1089.0L1202.0 1109.4L1202.0 1129.7L1195.1 1139.9ZM1090.9 1109.4L1090.9 1089.0L1090.9 1068.6L1090.9 1048.2L1084.0 1038.1L1080.5 1027.9L1080.5 1007.5L1073.6 987.1L1070.1 976.9L1066.6 966.8L1063.1 946.4L1070.1 936.2L1077.0 926.0L1077.0 905.6L1080.5 885.3L1084.0 874.0L1089.2 885.3L1087.4 905.6L1087.4 926.0L1094.4 946.4L1095.5 966.8L1094.4 987.1L1090.9 1007.5L1097.9 1017.7L1104.8 1007.5L1104.8 987.1L1111.7 976.9L1118.7 966.8L1125.6 956.6L1139.5 956.6L1146.5 966.8L1139.5 976.9L1136.1 987.1L1139.5 997.3L1153.4 997.3L1160.4 987.1L1160.4 966.8L1167.3 956.6L1174.2 966.8L1174.2 987.1L1174.2 1007.5L1174.2 1027.9L1167.3 1038.1L1153.4 1038.1L1146.5 1048.2L1146.5 1068.6L1139.5 1078.8L1132.6 1089.0L1132.6 1109.4L1125.6 1119.6L1118.7 1109.4L1111.7 1099.2L1104.8 1109.4L1097.9 1119.6ZM1160.4 1089.0L1167.3 1078.8L1174.2 1089.0L1167.3 1099.2ZM1243.7 1068.6L1250.6 1058.4L1257.6 1068.6L1250.6 1078.8ZM1094.4 926.0L1094.4 905.6L1097.9 890.7L1104.8 905.6L1104.8 926.0L1097.9 936.2ZM1813.0 1527.0L1820.0 1516.8L1833.9 1537.2L1847.8 1537.2L1854.7 1537.2L1861.6 1527.0L1868.6 1516.8L1875.5 1506.6L1882.5 1516.8L1882.5 1527.0L1889.4 1537.2L1896.4 1537.2L1896.4 1516.8L1896.4 1496.5L1889.4 1486.3L1882.5 1476.1L1875.5 1465.9L1868.6 1476.1L1861.6 1486.3L1854.7 1496.5L1854.7 1516.8L1847.8 1527.0L1833.9 1527.0L1826.9 1516.8L1826.9 1496.5L1826.9 1476.1L1826.9 1455.7L1826.9 1435.3L1820.0 1425.1L1806.1 1425.1L1799.2 1435.3L1799.2 1455.7L1799.2 1476.1L1806.1 1486.3L1813.0 1496.5L1813.0 1516.8ZM1205.5 1481.2L1209.0 1476.1L1222.8 1476.1L1236.7 1476.1L1243.7 1486.3L1243.7 1476.1L1236.7 1465.9L1222.8 1465.9L1209.0 1465.9L1202.0 1476.1ZM1861.6 1445.5L1875.5 1445.5L1882.5 1435.3L1875.5 1425.1L1861.6 1425.1L1854.7 1435.3ZM1903.3 1404.8L1903.3 1394.6L1903.3 1374.2L1903.3 1364.0L1896.4 1374.2L1896.4 1394.6ZM1570.0 1384.4L1577.0 1374.2L1583.9 1364.0L1590.8 1353.8L1590.8 1333.5L1597.8 1323.3L1604.7 1313.1L1597.8 1302.9L1590.8 1292.7L1597.8 1282.5L1604.7 1272.4L1597.8 1262.2L1590.8 1252.0L1590.8 1231.6L1590.8 1211.2L1590.8 1190.9L1583.9 1180.7L1570.0 1180.7L1556.1 1180.7L1542.2 1180.7L1535.3 1190.9L1542.2 1201.0L1549.2 1211.2L1549.2 1231.6L1549.2 1252.0L1556.1 1262.2L1563.1 1272.4L1563.1 1292.7L1570.0 1302.9L1577.0 1313.1L1570.0 1323.3L1556.1 1323.3L1549.2 1333.5L1549.2 1353.8L1556.1 1364.0L1563.1 1374.2ZM1875.5 1384.4L1882.5 1374.2L1875.5 1364.0L1868.6 1374.2ZM1639.5 1364.0L1646.4 1353.8L1639.5 1343.7L1632.5 1353.8ZM1750.6 1364.0L1757.5 1353.8L1757.5 1333.5L1750.6 1323.3L1736.7 1323.3L1729.7 1333.5L1736.7 1343.7L1743.6 1353.8ZM1847.8 1343.7L1861.6 1343.7L1868.6 1333.5L1868.6 1313.1L1875.5 1302.9L1882.5 1313.1L1882.5 1333.5L1889.4 1343.7L1903.3 1343.7L1903.3 1333.5L1903.3 1313.1L1903.3 1292.7L1903.3 1282.5L1889.4 1282.5L1875.5 1282.5L1868.6 1292.7L1861.6 1302.9L1854.7 1292.7L1854.7 1272.4L1847.8 1262.2L1840.8 1252.0L1833.9 1241.8L1826.9 1231.6L1820.0 1221.4L1813.0 1211.2L1820.0 1201.0L1833.9 1201.0L1847.8 1201.0L1861.6 1201.0L1875.5 1201.0L1889.4 1201.0L1896.4 1190.9L1903.3 1180.7L1903.3 1170.5L1903.3 1150.1L1903.3 1129.7L1903.3 1109.4L1903.3 1089.0L1903.3 1068.6L1903.3 1048.2L1903.3 1027.9L1903.3 1017.7L1889.4 1017.7L1882.5 1027.9L1882.5 1048.2L1875.5 1058.4L1868.6 1048.2L1861.6 1038.1L1854.7 1048.2L1854.7 1068.6L1854.7 1089.0L1854.7 1109.4L1854.7 1129.7L1847.8 1139.9L1833.9 1139.9L1826.9 1129.7L1820.0 1119.6L1806.1 1119.6L1799.2 1129.7L1799.2 1150.1L1799.2 1170.5L1792.2 1180.7L1778.3 1180.7L1771.4 1170.5L1771.4 1150.1L1771.4 1129.7L1771.4 1109.4L1771.4 1089.0L1778.3 1078.8L1785.3 1068.6L1785.3 1048.2L1778.3 1038.1L1771.4 1048.2L1764.4 1058.4L1757.5 1068.6L1750.6 1078.8L1743.6 1089.0L1743.6 1109.4L1743.6 1129.7L1743.6 1150.1L1743.6 1170.5L1750.6 1180.7L1757.5 1190.9L1757.5 1211.2L1757.5 1231.6L1757.5 1252.0L1764.4 1262.2L1778.3 1262.2L1785.3 1252.0L1792.2 1241.8L1799.2 1252.0L1806.1 1262.2L1813.0 1272.4L1820.0 1282.5L1826.9 1292.7L1833.9 1302.9L1840.8 1313.1L1840.8 1333.5ZM1868.6 1109.4L1868.6 1089.0L1875.5 1078.8L1889.4 1078.8L1896.4 1089.0L1889.4 1099.2L1882.5 1109.4L1875.5 1119.6ZM1695.0 1323.3L1708.9 1323.3L1722.8 1323.3L1729.7 1313.1L1729.7 1292.7L1736.7 1282.5L1750.6 1282.5L1757.5 1272.4L1750.6 1262.2L1736.7 1262.2L1722.8 1262.2L1715.8 1252.0L1715.8 1231.6L1715.8 1211.2L1715.8 1190.9L1715.8 1170.5L1715.8 1150.1L1715.8 1129.7L1708.9 1119.6L1701.9 1109.4L1695.0 1099.2L1688.1 1109.4L1688.1 1129.7L1688.1 1150.1L1688.1 1170.5L1688.1 1190.9L1681.1 1201.0L1674.2 1211.2L1674.2 1231.6L1674.2 1252.0L1674.2 1272.4L1667.2 1282.5L1660.3 1272.4L1660.3 1252.0L1653.3 1241.8L1646.4 1252.0L1639.5 1262.2L1625.6 1262.2L1618.6 1272.4L1625.6 1282.5L1639.5 1282.5L1646.4 1292.7L1653.3 1302.9L1667.2 1302.9L1681.1 1302.9L1688.1 1313.1ZM1688.1 1292.7L1695.0 1282.5L1708.9 1282.5L1715.8 1292.7L1708.9 1302.9L1695.0 1302.9ZM1445.0 1241.8L1458.9 1241.8L1465.9 1231.6L1465.9 1211.2L1465.9 1190.9L1472.8 1180.7L1479.8 1170.5L1472.8 1160.3L1458.9 1160.3L1445.0 1160.3L1438.1 1170.5L1438.1 1190.9L1438.1 1211.2L1438.1 1231.6ZM1458.9 1078.8L1465.9 1068.6L1465.9 1048.2L1458.9 1038.1L1452.0 1048.2L1452.0 1068.6ZM1695.0 1078.8L1701.9 1068.6L1708.9 1058.4L1712.4 1048.2L1715.8 1027.9L1715.8 1007.5L1722.8 997.3L1729.7 1007.5L1736.7 1017.7L1750.6 1017.7L1764.4 1017.7L1771.4 1007.5L1778.3 997.3L1785.3 987.1L1785.3 966.8L1785.3 946.4L1792.2 936.2L1799.2 926.0L1806.1 915.8L1813.0 926.0L1820.0 936.2L1833.9 936.2L1840.8 946.4L1847.8 956.6L1861.6 956.6L1868.6 946.4L1875.5 936.2L1882.5 946.4L1875.5 956.6L1868.6 966.8L1875.5 976.9L1882.5 987.1L1889.4 997.3L1903.3 997.3L1903.3 987.1L1903.3 966.8L1903.3 946.4L1903.3 926.0L1903.3 905.6L1903.3 885.3L1903.3 875.1L1896.4 864.9L1889.4 854.7L1882.5 844.5L1875.5 834.3L1861.6 829.2L1854.7 824.1L1847.8 819.1L1833.9 814.0L1820.0 814.0L1813.0 824.1L1806.1 834.3L1799.2 824.1L1792.2 814.0L1785.3 803.8L1778.3 798.7L1764.4 798.7L1757.5 803.8L1750.6 814.0L1736.7 814.0L1729.7 803.8L1722.8 793.6L1708.9 793.6L1701.9 783.4L1695.0 773.2L1681.1 773.2L1674.2 783.4L1667.2 793.6L1660.3 783.4L1660.3 763.0L1653.3 752.8L1646.4 752.8L1639.5 763.0L1625.6 783.4L1622.1 778.3L1611.7 778.3L1597.8 773.2L1590.8 763.0L1583.9 752.8L1570.0 752.8L1556.1 752.8L1542.2 752.8L1535.3 763.0L1528.4 773.2L1521.4 783.4L1514.5 793.6L1500.6 793.6L1493.6 803.8L1493.6 824.1L1493.6 844.5L1493.6 864.9L1500.6 875.1L1507.5 885.3L1507.5 905.6L1507.5 926.0L1507.5 946.4L1514.5 956.6L1521.4 966.8L1514.5 976.9L1507.5 987.1L1514.5 997.3L1521.4 1007.5L1521.4 1027.9L1528.4 1038.1L1535.3 1027.9L1542.2 1017.7L1556.1 1017.7L1563.1 1007.5L1563.1 987.1L1570.0 976.9L1577.0 966.8L1570.0 956.6L1563.1 946.4L1570.0 936.2L1577.0 926.0L1570.0 915.8L1563.1 905.6L1570.0 895.5L1583.9 895.5L1597.8 895.5L1604.7 905.6L1611.7 915.8L1618.6 926.0L1618.6 946.4L1625.6 956.6L1632.5 966.8L1639.5 976.9L1653.3 976.9L1660.3 966.8L1667.2 956.6L1674.2 946.4L1681.1 936.2L1688.1 946.4L1688.1 966.8L1681.1 976.9L1674.2 987.1L1681.1 997.3L1688.1 1007.5L1688.1 1027.9L1688.1 1048.2L1688.1 1068.6ZM1688.1 987.1L1695.0 976.9L1701.9 966.8L1708.9 956.6L1715.8 966.8L1715.8 987.1L1708.9 997.3L1695.0 997.3ZM1535.3 946.4L1535.3 926.0L1542.2 915.8L1549.2 926.0L1549.2 946.4L1542.2 956.6ZM1743.6 946.4L1743.6 926.0L1750.6 915.8L1764.4 915.8L1771.4 926.0L1771.4 946.4L1764.4 956.6L1750.6 956.6ZM1646.4 905.6L1639.5 895.5L1625.6 895.5L1611.7 895.5L1604.7 885.3L1604.7 864.9L1597.8 854.7L1583.9 854.7L1577.0 864.9L1570.0 875.1L1556.1 875.1L1549.2 864.9L1542.2 859.8L1535.3 864.9L1528.4 875.1L1514.5 875.1L1507.5 864.9L1507.5 844.5L1507.5 824.1L1514.5 814.0L1521.4 803.8L1528.4 793.6L1542.2 793.6L1549.2 783.4L1556.1 773.2L1570.0 773.2L1577.0 783.4L1583.9 793.6L1590.8 803.8L1597.8 814.0L1611.7 814.0L1618.6 803.8L1625.6 793.6L1639.5 793.6L1653.3 793.6L1660.3 803.8L1667.2 814.0L1681.1 814.0L1688.1 824.1L1688.1 844.5L1681.1 854.7L1674.2 864.9L1674.2 885.3L1674.2 905.6L1667.2 915.8L1653.3 915.8ZM1771.4 905.6L1764.4 895.5L1757.5 885.3L1750.6 875.1L1736.7 875.1L1733.2 864.9L1729.7 844.5L1736.7 834.3L1743.6 844.5L1750.6 854.7L1764.4 854.7L1771.4 844.5L1778.3 834.3L1792.2 834.3L1799.2 844.5L1806.1 854.7L1813.0 844.5L1820.0 834.3L1833.9 834.3L1847.8 834.3L1861.6 839.4L1868.6 844.5L1868.6 864.9L1861.6 875.1L1847.8 875.1L1833.9 875.1L1820.0 875.1L1806.1 875.1L1792.2 875.1L1785.3 885.3L1792.2 895.5L1799.2 905.6L1792.2 915.8L1778.3 915.8ZM1715.8 864.9L1722.8 854.7L1726.2 864.9L1722.8 875.1ZM1667.2 1017.7L1674.2 1007.5L1667.2 997.3L1660.3 1007.5ZM1347.8 997.3L1354.8 987.1L1361.7 976.9L1368.7 966.8L1361.7 956.6L1347.8 956.6L1340.9 966.8L1340.9 987.1ZM1333.9 936.2L1347.8 936.2L1354.8 926.0L1354.8 905.6L1354.8 885.3L1354.8 864.9L1354.8 844.5L1347.8 834.3L1340.9 824.1L1340.9 803.8L1333.9 793.6L1327.0 783.4L1320.1 773.2L1313.1 783.4L1306.2 793.6L1299.2 783.4L1292.3 773.2L1285.6 763.0L1285.3 742.7L1278.4 732.5L1273.9 722.3L1267.7 701.9L1264.5 701.9L1250.6 681.5L1236.7 681.5L1222.8 681.5L1217.0 673.0L1209.0 679.5L1195.1 680.8L1181.2 668.6L1177.8 661.2L1178.1 656.6L1167.3 640.8L1153.4 661.2L1139.5 661.2L1136.4 661.2L1139.5 680.6L1153.4 673.3L1167.3 679.3L1169.8 681.5L1167.3 684.3L1153.4 695.2L1141.6 701.9L1139.5 703.4L1138.8 701.9L1139.0 681.5L1125.6 676.2L1111.7 676.4L1101.3 661.2L1097.9 661.2L1084.0 640.8L1070.1 661.2L1070.1 681.5L1056.2 701.9L1056.2 722.3L1056.2 742.7L1056.2 752.8L1070.1 751.2L1078.4 742.7L1083.0 722.3L1084.0 720.8L1086.2 722.3L1097.9 728.1L1111.7 728.8L1125.6 740.2L1127.2 742.7L1136.8 763.0L1139.5 764.2L1152.6 783.4L1153.4 788.3L1157.0 803.8L1154.9 824.1L1167.3 831.9L1174.3 824.1L1174.2 803.8L1176.8 783.4L1179.4 763.0L1181.2 753.9L1195.1 762.4L1195.5 763.0L1209.0 778.2L1212.3 783.4L1222.8 799.7L1230.2 803.8L1236.7 806.3L1250.6 810.5L1264.5 814.5L1278.4 814.0L1292.3 814.0L1306.2 814.0L1320.1 814.0L1327.0 824.1L1327.0 844.5L1327.0 864.9L1327.0 885.3L1327.0 905.6L1327.0 926.0ZM1243.0 783.4L1236.7 778.7L1225.5 763.0L1222.8 756.8L1210.5 742.7L1209.0 741.3L1195.1 729.0L1187.3 722.3L1195.1 713.6L1209.0 706.3L1214.3 701.9L1222.8 695.7L1236.7 700.7L1250.6 695.7L1254.2 701.9L1264.5 720.3L1265.0 722.3L1264.5 730.2L1262.9 742.7L1264.5 749.2L1268.6 763.0L1271.2 783.4L1264.5 792.3L1250.6 788.3ZM1153.0 742.7L1153.4 742.0L1155.5 742.7L1153.4 743.1ZM1160.5 722.3L1167.3 714.8L1176.6 722.3L1167.3 739.5ZM1083.5 661.2L1084.0 660.5L1084.4 661.2L1084.0 661.8ZM1445.0 936.2L1458.9 936.2L1465.9 926.0L1465.9 905.6L1472.8 895.5L1479.8 885.3L1479.8 864.9L1479.8 844.5L1479.8 824.1L1479.8 803.8L1472.8 793.6L1465.9 783.4L1458.9 773.2L1452.0 763.0L1452.0 752.8L1445.0 742.7L1431.1 742.7L1417.3 742.7L1410.3 742.7L1410.3 763.0L1410.3 783.4L1410.3 803.8L1417.3 814.0L1424.2 824.1L1431.1 834.3L1445.0 834.3L1452.0 844.5L1445.0 854.7L1431.1 854.7L1424.2 864.9L1431.1 875.1L1438.1 885.3L1445.0 895.5L1452.0 905.6L1445.0 915.8L1438.1 926.0ZM1452.0 803.8L1458.9 793.6L1465.9 803.8L1458.9 814.0ZM1438.1 783.4L1445.0 773.2L1452.0 783.4L1445.0 793.6Z" fill="#00FFFF" fill-rule="evenodd" stroke="#00FFFF" stroke-width="0.6"/>
<path d="M1084.0 1527.0L1090.9 1537.2L1097.9 1537.2L1104.8 1537.2L1111.7 1527.0L1118.7 1516.8L1125.6 1506.6L1129.1 1516.8L1132.6 1537.2L1139.5 1537.2L1153.4 1537.2L1167.3 1516.8L1181.2 1496.5L1188.1 1496.5L1195.1 1486.3L1198.5 1491.4L1205.5 1481.2L1202.0 1476.1L1209.0 1465.9L1222.8 1465.9L1236.7 1465.9L1243.7 1476.1L1243.7 1486.3L1250.6 1496.5L1257.6 1486.3L1257.6 1476.1L1257.6 1455.7L1257.6 1435.3L1264.5 1425.1L1278.4 1425.1L1285.3 1435.3L1292.3 1445.5L1306.2 1445.5L1320.1 1450.6L1327.0 1455.7L1320.1 1465.9L1313.1 1465.9L1320.1 1476.1L1333.9 1476.1L1347.8 1476.1L1354.8 1476.1L1354.8 1455.7L1347.8 1445.5L1333.9 1445.5L1320.1 1440.4L1313.1 1435.3L1306.2 1425.1L1292.3 1425.1L1285.3 1415.0L1278.4 1404.8L1271.4 1394.6L1264.5 1384.4L1250.6 1384.4L1243.7 1374.2L1236.7 1364.0L1229.8 1353.8L1236.7 1343.7L1243.7 1333.5L1250.6 1323.3L1257.6 1313.1L1250.6 1302.9L1243.7 1292.7L1250.6 1282.5L1264.5 1282.5L1271.4 1272.4L1271.4 1252.0L1264.5 1241.8L1250.6 1241.8L1236.7 1241.8L1229.8 1252.0L1222.8 1262.2L1209.0 1262.2L1202.0 1252.0L1202.0 1231.6L1202.0 1211.2L1202.0 1190.9L1195.1 1180.7L1188.1 1190.9L1181.2 1201.0L1174.2 1211.2L1181.2 1221.4L1188.1 1231.6L1188.1 1252.0L1188.1 1272.4L1195.1 1282.5L1209.0 1282.5L1215.9 1292.7L1215.9 1313.1L1215.9 1333.5L1209.0 1343.7L1202.0 1333.5L1195.1 1323.3L1181.2 1323.3L1174.2 1333.5L1167.3 1343.7L1153.4 1343.7L1146.5 1353.8L1139.5 1364.0L1132.6 1374.2L1139.5 1384.4L1146.5 1394.6L1153.4 1404.8L1160.4 1415.0L1160.4 1435.3L1160.4 1455.7L1160.4 1476.1L1160.4 1496.5L1160.4 1516.8L1153.4 1527.0L1139.5 1527.0L1136.1 1516.8L1132.6 1496.5L1129.1 1476.1L1125.6 1465.9L1118.7 1455.7L1125.6 1445.5L1132.6 1435.3L1125.6 1425.1L1118.7 1415.0L1111.7 1404.8L1097.9 1404.8L1084.0 1404.8L1080.5 1415.0L1084.0 1425.1L1090.9 1435.3L1097.9 1445.5L1104.8 1455.7L1108.3 1476.1L1108.3 1496.5L1104.8 1516.8L1097.9 1527.0L1090.9 1516.8L1084.0 1506.6L1077.0 1516.8L1070.1 1521.9L1070.1 1532.1ZM1625.6 1537.2L1639.5 1537.2L1653.3 1537.2L1660.3 1527.0L1653.3 1532.1L1639.5 1527.0L1625.6 1527.0L1618.6 1516.8L1611.7 1506.6L1604.7 1496.5L1597.8 1486.3L1590.8 1476.1L1583.9 1465.9L1577.0 1455.7L1570.0 1445.5L1563.1 1455.7L1556.1 1465.9L1549.2 1455.7L1542.2 1445.5L1528.4 1445.5L1521.4 1435.3L1514.5 1425.1L1500.6 1425.1L1486.7 1425.1L1472.8 1425.1L1465.9 1435.3L1458.9 1445.5L1452.0 1455.7L1452.0 1476.1L1458.9 1486.3L1465.9 1496.5L1465.9 1506.6L1472.8 1516.8L1486.7 1516.8L1500.6 1496.5L1514.5 1496.5L1528.4 1496.5L1535.3 1506.6L1542.2 1506.6L1549.2 1496.5L1556.1 1486.3L1563.1 1496.5L1570.0 1496.5L1583.9 1516.8L1597.8 1516.8L1611.7 1516.8ZM1695.0 1537.2L1701.9 1537.2L1695.0 1527.0L1688.1 1527.0ZM1722.8 1537.2L1736.7 1537.2L1743.6 1527.0L1743.6 1516.8L1736.7 1506.6L1722.8 1506.6L1715.8 1516.8L1715.8 1537.2ZM1861.6 1537.2L1875.5 1516.8L1882.5 1527.0L1882.5 1516.8L1875.5 1506.6L1868.6 1516.8L1861.6 1527.0L1854.7 1537.2ZM1393.0 1476.1L1393.0 1455.7L1396.4 1435.3L1403.4 1425.1L1410.3 1415.0L1403.4 1404.8L1396.4 1394.6L1389.5 1384.4L1386.0 1394.6L1386.0 1415.0L1382.5 1435.3L1382.5 1455.7L1375.6 1465.9L1368.7 1476.1L1375.6 1476.1L1389.5 1476.1L1393.0 1481.2ZM1458.9 1404.8L1465.9 1394.6L1465.9 1374.2L1465.9 1353.8L1465.9 1333.5L1458.9 1323.3L1445.0 1323.3L1431.1 1323.3L1424.2 1313.1L1417.3 1302.9L1410.3 1313.1L1403.4 1323.3L1396.4 1313.1L1389.5 1302.9L1382.5 1313.1L1382.5 1333.5L1382.5 1353.8L1389.5 1364.0L1396.4 1374.2L1403.4 1384.4L1417.3 1384.4L1424.2 1374.2L1424.2 1353.8L1431.1 1343.7L1438.1 1353.8L1438.1 1374.2L1445.0 1384.4L1452.0 1394.6ZM1070.1 1384.4L1077.0 1374.2L1084.0 1364.0L1090.9 1353.8L1084.0 1343.7L1070.1 1343.7L1056.2 1343.7L1056.2 1353.8L1056.2 1374.2L1056.2 1384.4ZM1347.8 1364.0L1361.7 1364.0L1368.7 1353.8L1368.7 1333.5L1361.7 1323.3L1354.8 1313.1L1361.7 1302.9L1368.7 1292.7L1368.7 1272.4L1361.7 1262.2L1354.8 1272.4L1347.8 1282.5L1340.9 1292.7L1340.9 1313.1L1340.9 1333.5L1340.9 1353.8ZM1695.0 1302.9L1708.9 1302.9L1715.8 1292.7L1708.9 1282.5L1695.0 1282.5L1688.1 1292.7ZM1861.6 1302.9L1868.6 1292.7L1875.5 1282.5L1889.4 1282.5L1903.3 1282.5L1903.3 1272.4L1903.3 1262.2L1889.4 1262.2L1882.5 1252.0L1882.5 1231.6L1889.4 1221.4L1903.3 1221.4L1903.3 1211.2L1903.3 1190.9L1903.3 1180.7L1896.4 1190.9L1889.4 1201.0L1875.5 1201.0L1861.6 1201.0L1847.8 1201.0L1833.9 1201.0L1820.0 1201.0L1813.0 1211.2L1820.0 1221.4L1826.9 1231.6L1833.9 1241.8L1840.8 1252.0L1847.8 1262.2L1854.7 1272.4L1854.7 1292.7ZM1292.3 1241.8L1299.2 1231.6L1299.2 1211.2L1299.2 1190.9L1292.3 1180.7L1285.3 1190.9L1285.3 1211.2L1285.3 1231.6ZM1236.7 1201.0L1243.7 1190.9L1236.7 1180.7L1229.8 1190.9ZM1195.1 1139.9L1202.0 1129.7L1202.0 1109.4L1202.0 1089.0L1195.1 1078.8L1188.1 1089.0L1188.1 1109.4L1188.1 1129.7ZM1097.9 1119.6L1104.8 1109.4L1111.7 1099.2L1118.7 1109.4L1125.6 1119.6L1132.6 1109.4L1132.6 1089.0L1139.5 1078.8L1146.5 1068.6L1146.5 1048.2L1153.4 1038.1L1167.3 1038.1L1174.2 1027.9L1174.2 1007.5L1174.2 987.1L1174.2 966.8L1167.3 956.6L1160.4 966.8L1160.4 987.1L1153.4 997.3L1139.5 997.3L1136.1 987.1L1139.5 976.9L1146.5 966.8L1139.5 956.6L1125.6 956.6L1118.7 966.8L1111.7 976.9L1104.8 987.1L1104.8 1007.5L1097.9 1017.7L1090.9 1007.5L1094.4 987.1L1095.5 966.8L1094.4 946.4L1087.4 926.0L1087.4 905.6L1089.2 885.3L1084.0 874.0L1080.5 885.3L1077.0 905.6L1077.0 926.0L1070.1 936.2L1063.1 946.4L1066.6 966.8L1070.1 976.9L1073.6 987.1L1080.5 1007.5L1080.5 1027.9L1084.0 1038.1L1090.9 1048.2L1090.9 1068.6L1090.9 1089.0L1090.9 1109.4ZM1104.8 1068.6L1104.8 1048.2L1111.7 1038.1L1125.6 1038.1L1132.6 1048.2L1132.6 1068.6L1125.6 1078.8L1111.7 1078.8ZM1080.5 987.1L1073.6 966.8L1077.0 946.4L1084.0 936.2L1087.4 946.4L1090.9 966.8L1087.4 987.1L1084.0 997.3ZM1118.7 987.1L1125.6 976.9L1129.1 987.1L1125.6 997.3ZM1167.3 1099.2L1174.2 1089.0L1167.3 1078.8L1160.4 1089.0ZM1250.6 1078.8L1257.6 1068.6L1250.6 1058.4L1243.7 1068.6ZM1695.0 997.3L1708.9 997.3L1715.8 987.1L1715.8 966.8L1708.9 956.6L1701.9 966.8L1695.0 976.9L1688.1 987.1ZM1750.6 956.6L1764.4 956.6L1771.4 946.4L1771.4 926.0L1764.4 915.8L1750.6 915.8L1743.6 926.0L1743.6 946.4ZM1653.3 915.8L1667.2 915.8L1674.2 905.6L1674.2 885.3L1674.2 864.9L1681.1 854.7L1688.1 844.5L1688.1 824.1L1681.1 814.0L1667.2 814.0L1660.3 803.8L1653.3 793.6L1639.5 793.6L1625.6 793.6L1618.6 803.8L1611.7 814.0L1597.8 814.0L1590.8 803.8L1583.9 793.6L1577.0 783.4L1570.0 773.2L1556.1 773.2L1549.2 783.4L1542.2 793.6L1528.4 793.6L1521.4 803.8L1514.5 814.0L1507.5 824.1L1507.5 844.5L1507.5 864.9L1514.5 875.1L1528.4 875.1L1535.3 864.9L1542.2 859.8L1549.2 864.9L1556.1 875.1L1570.0 875.1L1577.0 864.9L1583.9 854.7L1597.8 854.7L1604.7 864.9L1604.7 885.3L1611.7 895.5L1625.6 895.5L1639.5 895.5L1646.4 905.6ZM1646.4 885.3L1639.5 875.1L1625.6 875.1L1618.6 864.9L1625.6 854.7L1632.5 844.5L1639.5 834.3L1646.4 824.1L1653.3 814.0L1660.3 824.1L1663.8 844.5L1663.8 864.9L1660.3 885.3L1653.3 895.5ZM1521.4 844.5L1521.4 824.1L1528.4 814.0L1542.2 814.0L1549.2 824.1L1556.1 834.3L1563.1 844.5L1556.1 854.7L1542.2 849.6L1528.4 854.7ZM1549.2 803.8L1556.1 793.6L1563.1 803.8L1556.1 814.0ZM1778.3 915.8L1792.2 915.8L1799.2 905.6L1792.2 895.5L1785.3 885.3L1792.2 875.1L1806.1 875.1L1820.0 875.1L1833.9 875.1L1847.8 875.1L1861.6 875.1L1868.6 864.9L1868.6 844.5L1861.6 839.4L1847.8 834.3L1833.9 834.3L1820.0 834.3L1813.0 844.5L1806.1 854.7L1799.2 844.5L1792.2 834.3L1778.3 834.3L1771.4 844.5L1764.4 854.7L1750.6 854.7L1743.6 844.5L1736.7 834.3L1729.7 844.5L1733.2 864.9L1736.7 875.1L1750.6 875.1L1757.5 885.3L1764.4 895.5L1771.4 905.6ZM1458.9 814.0L1465.9 803.8L1458.9 793.6L1452.0 803.8ZM1250.6 788.3L1264.5 792.3L1271.2 783.4L1268.6 763.0L1264.5 749.2L1262.9 742.7L1264.5 730.2L1265.0 722.3L1264.5 720.3L1254.2 701.9L1250.6 695.7L1236.7 700.7L1222.8 695.7L1214.3 701.9L1209.0 706.3L1195.1 713.6L1187.3 722.3L1195.1 729.0L1209.0 741.3L1210.5 742.7L1222.8 756.8L1225.5 763.0L1236.7 778.7L1243.0 783.4ZM1445.0 793.6L1452.0 783.4L1445.0 773.2L1438.1 783.4ZM1153.4 743.1L1155.5 742.7L1153.4 742.0L1153.0 742.7ZM1167.3 739.5L1176.6 722.3L1167.3 714.8L1160.5 722.3Z" fill="#AAFF55" fill-rule="evenodd" stroke="#AAFF55" stroke-width="0.6"/>
<path d="M1084.0 1537.2L1090.9 1537.2L1084.0 1527.0L1070.1 1532.1L1070.1 1537.2ZM1111.7 1537.2L1125.6 1537.2L1132.6 1537.2L1129.1 1516.8L1125.6 1506.6L1118.7 1516.8L1111.7 1527.0L1104.8 1537.2ZM1542.2 1516.8L1556.1 1496.5L1563.1 1496.5L1556.1 1486.3L1549.2 1496.5L1542.2 1506.6L1535.3 1506.6ZM1195.1 1496.5L1198.5 1491.4L1195.1 1486.3L1188.1 1496.5ZM1257.6 1486.3L1264.5 1476.1L1278.4 1455.7L1292.3 1455.7L1306.2 1455.7L1313.1 1465.9L1320.1 1465.9L1327.0 1455.7L1320.1 1450.6L1306.2 1445.5L1292.3 1445.5L1285.3 1435.3L1278.4 1425.1L1264.5 1425.1L1257.6 1435.3L1257.6 1455.7L1257.6 1476.1ZM1889.4 1262.2L1903.3 1262.2L1903.3 1252.0L1903.3 1231.6L1903.3 1221.4L1889.4 1221.4L1882.5 1231.6L1882.5 1252.0ZM1111.7 1078.8L1125.6 1078.8L1132.6 1068.6L1132.6 1048.2L1125.6 1038.1L1111.7 1038.1L1104.8 1048.2L1104.8 1068.6ZM1084.0 997.3L1087.4 987.1L1090.9 966.8L1087.4 946.4L1084.0 936.2L1077.0 946.4L1073.6 966.8L1080.5 987.1ZM1080.5 966.8L1084.0 956.6L1086.3 966.8L1084.0 976.9ZM1125.6 997.3L1129.1 987.1L1125.6 976.9L1118.7 987.1ZM1653.3 895.5L1660.3 885.3L1663.8 864.9L1663.8 844.5L1660.3 824.1L1653.3 814.0L1646.4 824.1L1639.5 834.3L1632.5 844.5L1625.6 854.7L1618.6 864.9L1625.6 875.1L1639.5 875.1L1646.4 885.3ZM1646.4 864.9L1646.4 844.5L1653.3 834.3L1656.8 844.5L1656.8 864.9L1653.3 875.1ZM1528.4 854.7L1542.2 849.6L1556.1 854.7L1563.1 844.5L1556.1 834.3L1549.2 824.1L1542.2 814.0L1528.4 814.0L1521.4 824.1L1521.4 844.5ZM1556.1 814.0L1563.1 803.8L1556.1 793.6L1549.2 803.8Z" fill="#FFFF00" fill-rule="evenodd" stroke="#FFFF00" stroke-width="0.6"/>
<path d="M1084.0 976.9L1086.3 966.8L1084.0 956.6L1080.5 966.8ZM1653.3 875.1L1656.8 864.9L1656.8 844.5L1653.3 834.3L1646.4 844.5L1646.4 864.9Z" fill="#FFAA00" fill-rule="evenodd" stroke="#FFAA00" stroke-width="0.6"/>
<path d="M1799.2 763.0L1792.2 773.2L1778.3 773.2L1771.4 773.2M1396.4 1506.6L1403.4 1506.6L1410.3 1516.8M1056.2 1425.1L1063.1 1435.3L1063.1 1445.5M1056.2 997.3L1063.1 1007.5L1063.1 1027.9L1063.1 1048.2L1056.2 1058.4M1903.3 814.0L1889.4 814.0L1882.5 803.8L1875.5 793.6L1868.6 803.8L1861.6 814.0L1847.8 808.9L1840.8 803.8L1833.9 793.6L1820.0 793.6L1806.1 793.6L1792.2 793.6L1778.3 788.5L1764.4 788.5L1750.6 793.6L1743.6 783.4M1507.5 763.0L1500.6 773.2L1493.6 783.4L1486.7 793.6L1479.8 783.4L1479.8 773.2M1615.2 768.1L1611.7 768.1L1604.7 763.0M1715.8 752.8L1708.9 752.8L1695.0 752.8L1681.1 752.8L1674.2 752.8M1327.0 722.3L1320.1 732.5L1306.2 732.5L1299.2 722.3M1382.5 732.5L1382.5 742.7L1389.5 752.8L1396.4 763.0L1396.4 783.4L1396.4 803.8L1403.4 814.0L1410.3 824.1L1410.3 844.5L1410.3 864.9L1403.4 875.1L1396.4 885.3L1396.4 905.6L1396.4 926.0L1403.4 936.2L1410.3 946.4L1403.4 956.6L1396.4 966.8L1396.4 987.1L1396.4 1007.5L1403.4 1017.7L1417.3 1017.7L1431.1 1017.7L1438.1 1027.9L1431.1 1038.1L1424.2 1048.2L1431.1 1058.4L1438.1 1068.6L1438.1 1089.0L1438.1 1109.4L1438.1 1129.7L1438.1 1150.1L1431.1 1160.3L1424.2 1150.1L1424.2 1129.7L1424.2 1109.4L1424.2 1089.0L1417.3 1078.8L1403.4 1078.8L1396.4 1089.0L1396.4 1109.4L1389.5 1119.6L1382.5 1129.7L1375.6 1139.9L1372.1 1129.7L1368.7 1109.4L1368.7 1089.0L1368.7 1068.6L1368.7 1048.2L1368.7 1027.9L1375.6 1017.7L1382.5 1007.5L1375.6 997.3L1368.7 987.1L1375.6 976.9L1382.5 966.8L1375.6 956.6L1368.7 946.4L1375.6 936.2L1382.5 926.0L1382.5 905.6L1375.6 895.5L1368.7 885.3L1368.7 864.9L1368.7 844.5L1368.7 824.1L1368.7 803.8L1361.7 793.6L1354.8 783.4L1354.8 763.0L1347.8 752.8L1340.9 742.7L1340.9 722.3M1563.1 732.5L1556.1 732.5L1549.2 732.5M1285.3 712.1L1278.4 712.1L1274.8 701.9M1129.2 661.2L1125.6 666.2L1111.7 666.3L1108.3 661.2M1611.7 1425.1L1604.7 1415.0L1611.7 1404.8L1618.6 1415.0ZM1792.2 1404.8L1785.3 1394.6L1792.2 1384.4L1806.1 1384.4L1813.0 1374.2L1820.0 1364.0L1826.9 1374.2L1826.9 1394.6L1820.0 1404.8L1806.1 1404.8ZM1514.5 1343.7L1507.5 1333.5L1507.5 1313.1L1514.5 1302.9L1521.4 1292.7L1528.4 1282.5L1535.3 1272.4L1542.2 1262.2L1549.2 1272.4L1549.2 1292.7L1542.2 1302.9L1535.3 1313.1L1535.3 1333.5L1528.4 1343.7ZM1472.8 1302.9L1469.3 1292.7L1465.9 1272.4L1465.9 1252.0L1472.8 1241.8L1479.8 1252.0L1486.7 1262.2L1493.6 1272.4L1493.6 1292.7L1486.7 1302.9ZM1722.8 1119.6L1715.8 1109.4L1715.8 1089.0L1715.8 1068.6L1719.3 1048.2L1722.8 1038.1L1729.7 1048.2L1729.7 1068.6L1729.7 1089.0L1729.7 1109.4ZM1500.6 1078.8L1493.6 1068.6L1486.7 1058.4L1479.8 1048.2L1479.8 1027.9L1479.8 1007.5L1486.7 997.3L1500.6 997.3L1507.5 1007.5L1507.5 1027.9L1507.5 1048.2L1507.5 1068.6ZM1570.0 1058.4L1563.1 1048.2L1570.0 1038.1L1577.0 1048.2ZM1597.8 1038.1L1590.8 1027.9L1597.8 1017.7L1611.7 1017.7L1618.6 1027.9L1611.7 1038.1ZM1306.2 1017.7L1299.2 1007.5L1306.2 997.3L1313.1 1007.5ZM1292.3 976.9L1285.3 966.8L1292.3 956.6L1306.2 956.6L1313.1 966.8L1306.2 976.9ZM1806.1 976.9L1799.2 966.8L1806.1 956.6L1813.0 966.8ZM1486.7 956.6L1479.8 946.4L1486.7 936.2L1493.6 946.4ZM1264.5 867.6L1256.0 864.9L1252.8 844.5L1264.5 838.6L1278.4 834.3L1285.3 844.5L1285.3 864.9L1278.4 875.1ZM1222.8 864.3L1210.1 844.5L1219.2 824.1L1222.8 823.1L1226.9 824.1L1236.7 833.7L1246.8 844.5L1236.7 852.3ZM1139.5 809.9L1139.2 803.8L1139.5 797.7L1139.7 803.8ZM1799.2 1537.2L1792.2 1527.0L1778.3 1527.0L1771.4 1516.8L1771.4 1496.5L1764.4 1486.3L1757.5 1476.1L1757.5 1455.7L1757.5 1435.3L1757.5 1415.0L1750.6 1404.8L1736.7 1404.8L1729.7 1394.6L1722.8 1384.4L1715.8 1374.2L1708.9 1364.0L1695.0 1364.0L1688.1 1374.2L1688.1 1394.6L1695.0 1404.8L1701.9 1415.0L1708.9 1425.1L1715.8 1435.3L1708.9 1445.5L1701.9 1455.7L1695.0 1465.9L1688.1 1455.7L1681.1 1445.5L1674.2 1455.7L1667.2 1465.9L1660.3 1476.1L1667.2 1486.3L1674.2 1496.5L1667.2 1506.6L1660.3 1516.8L1653.3 1521.9L1646.4 1516.8L1646.4 1496.5L1646.4 1476.1L1639.5 1465.9L1632.5 1476.1L1632.5 1496.5L1625.6 1506.6L1618.6 1496.5L1611.7 1486.3L1604.7 1476.1L1597.8 1465.9L1590.8 1455.7L1583.9 1445.5L1577.0 1435.3L1570.0 1425.1L1556.1 1425.1L1542.2 1425.1L1535.3 1415.0L1535.3 1394.6L1528.4 1384.4L1514.5 1384.4L1507.5 1374.2L1507.5 1353.8L1500.6 1343.7L1486.7 1343.7L1479.8 1333.5L1472.8 1323.3L1465.9 1313.1L1462.4 1292.7L1458.9 1282.5L1445.0 1282.5L1431.1 1282.5L1424.2 1272.4L1431.1 1262.2L1438.1 1252.0L1431.1 1241.8L1424.2 1231.6L1424.2 1211.2L1424.2 1190.9L1424.2 1170.5L1417.3 1160.3L1410.3 1150.1L1403.4 1139.9L1396.4 1150.1L1389.5 1160.3L1382.5 1170.5L1382.5 1190.9L1382.5 1211.2L1382.5 1231.6L1382.5 1252.0L1375.6 1262.2L1368.7 1252.0L1368.7 1231.6L1368.7 1211.2L1368.7 1190.9L1368.7 1170.5L1368.7 1150.1L1365.2 1129.7L1361.7 1119.6L1354.8 1129.7L1354.8 1150.1L1347.8 1160.3L1340.9 1170.5L1340.9 1190.9L1340.9 1211.2L1347.8 1221.4L1354.8 1231.6L1354.8 1252.0L1347.8 1262.2L1340.9 1272.4L1333.9 1282.5L1327.0 1272.4L1320.1 1262.2L1313.1 1252.0L1313.1 1231.6L1313.1 1211.2L1320.1 1201.0L1327.0 1190.9L1327.0 1170.5L1327.0 1150.1L1320.1 1139.9L1306.2 1139.9L1299.2 1129.7L1299.2 1109.4L1299.2 1089.0L1299.2 1068.6L1299.2 1048.2L1292.3 1038.1L1285.3 1027.9L1278.4 1017.7L1264.5 1017.7L1257.6 1007.5L1257.6 987.1L1257.6 966.8L1250.6 956.6L1236.7 956.6L1229.8 966.8L1222.8 976.9L1215.9 987.1L1209.0 997.3L1202.0 987.1L1209.0 976.9L1215.9 966.8L1222.8 956.6L1229.8 946.4L1222.8 936.2L1215.9 926.0L1209.0 915.8L1202.0 905.6L1195.1 895.5L1181.2 895.5L1174.2 905.6L1167.3 915.8L1153.4 915.8L1146.5 905.6L1146.5 885.3L1139.5 875.1L1125.6 869.1L1121.9 864.9L1118.9 844.5L1116.9 824.1L1111.7 812.4L1104.7 824.1L1102.6 844.5L1099.6 864.9L1097.9 870.4L1096.4 864.9L1093.4 844.5L1084.0 832.8L1074.0 844.5L1073.1 864.9L1073.6 885.3L1070.1 895.5L1063.1 905.6L1056.2 915.8M1896.4 1537.2L1896.4 1516.8L1896.4 1496.5L1889.4 1486.3L1882.5 1476.1L1875.5 1465.9L1868.6 1476.1L1861.6 1486.3L1854.7 1496.5L1854.7 1516.8L1847.8 1527.0L1833.9 1527.0L1826.9 1516.8L1826.9 1496.5L1826.9 1476.1L1826.9 1455.7L1826.9 1435.3L1820.0 1425.1L1806.1 1425.1L1799.2 1435.3L1799.2 1455.7L1799.2 1476.1L1806.1 1486.3L1813.0 1496.5L1813.0 1516.8L1813.0 1527.0M1399.9 1491.4L1399.9 1476.1L1399.9 1455.7L1403.4 1445.5L1410.3 1455.7L1417.3 1465.9L1424.2 1476.1L1424.2 1496.5L1431.1 1506.6L1445.0 1506.6L1452.0 1506.6M1056.2 1404.8L1070.1 1404.8L1073.6 1415.0L1077.0 1435.3L1084.0 1445.5L1090.9 1455.7L1097.9 1465.9L1101.3 1476.1L1101.3 1496.5L1097.9 1506.6L1090.9 1496.5L1084.0 1486.3L1077.0 1496.5L1070.1 1506.6M1903.3 1364.0L1896.4 1374.2L1896.4 1394.6L1903.3 1404.8M1903.3 1017.7L1889.4 1017.7L1882.5 1027.9L1882.5 1048.2L1875.5 1058.4L1868.6 1048.2L1861.6 1038.1L1854.7 1048.2L1854.7 1068.6L1854.7 1089.0L1854.7 1109.4L1854.7 1129.7L1847.8 1139.9L1833.9 1139.9L1826.9 1129.7L1820.0 1119.6L1806.1 1119.6L1799.2 1129.7L1799.2 1150.1L1799.2 1170.5L1792.2 1180.7L1778.3 1180.7L1771.4 1170.5L1771.4 1150.1L1771.4 1129.7L1771.4 1109.4L1771.4 1089.0L1778.3 1078.8L1785.3 1068.6L1785.3 1048.2L1778.3 1038.1L1771.4 1048.2L1764.4 1058.4L1757.5 1068.6L1750.6 1078.8L1743.6 1089.0L1743.6 1109.4L1743.6 1129.7L1743.6 1150.1L1743.6 1170.5L1750.6 1180.7L1757.5 1190.9L1757.5 1211.2L1757.5 1231.6L1757.5 1252.0L1764.4 1262.2L1778.3 1262.2L1785.3 1252.0L1792.2 1241.8L1799.2 1252.0L1806.1 1262.2L1813.0 1272.4L1820.0 1282.5L1826.9 1292.7L1833.9 1302.9L1840.8 1313.1L1840.8 1333.5L1847.8 1343.7L1861.6 1343.7L1868.6 1333.5L1868.6 1313.1L1875.5 1302.9L1882.5 1313.1L1882.5 1333.5L1889.4 1343.7L1903.3 1343.7M1056.2 956.6L1059.7 966.8L1063.1 987.1L1070.1 997.3L1073.6 1007.5L1073.6 1027.9L1077.0 1048.2L1077.0 1068.6L1077.0 1089.0L1077.0 1109.4L1084.0 1119.6L1090.9 1129.7L1090.9 1150.1L1090.9 1170.5L1097.9 1180.7L1104.8 1170.5L1104.8 1150.1L1111.7 1139.9L1118.7 1150.1L1118.7 1170.5L1118.7 1190.9L1118.7 1211.2L1125.6 1221.4L1132.6 1231.6L1132.6 1252.0L1132.6 1272.4L1132.6 1292.7L1125.6 1302.9L1111.7 1302.9L1104.8 1313.1L1097.9 1323.3L1084.0 1323.3L1077.0 1313.1L1084.0 1302.9L1090.9 1292.7L1084.0 1282.5L1077.0 1272.4L1084.0 1262.2L1090.9 1252.0L1084.0 1241.8L1077.0 1231.6L1077.0 1211.2L1077.0 1190.9L1077.0 1170.5L1070.1 1160.3L1063.1 1150.1L1056.2 1139.9M1903.3 875.1L1896.4 864.9L1889.4 854.7L1882.5 844.5L1875.5 834.3L1861.6 829.2L1854.7 824.1L1847.8 819.1L1833.9 814.0L1820.0 814.0L1813.0 824.1L1806.1 834.3L1799.2 824.1L1792.2 814.0L1785.3 803.8L1778.3 798.7L1764.4 798.7L1757.5 803.8L1750.6 814.0L1736.7 814.0L1729.7 803.8L1722.8 793.6L1708.9 793.6L1701.9 783.4L1695.0 773.2L1681.1 773.2L1674.2 783.4L1667.2 793.6L1660.3 783.4L1660.3 763.0L1653.3 752.8L1646.4 752.8M1622.1 778.3L1611.7 778.3L1597.8 773.2L1590.8 763.0L1583.9 752.8L1570.0 752.8L1556.1 752.8L1542.2 752.8L1535.3 763.0L1528.4 773.2L1521.4 783.4L1514.5 793.6L1500.6 793.6L1493.6 803.8L1493.6 824.1L1493.6 844.5L1493.6 864.9L1500.6 875.1L1507.5 885.3L1507.5 905.6L1507.5 926.0L1507.5 946.4L1514.5 956.6L1521.4 966.8L1514.5 976.9L1507.5 987.1L1514.5 997.3L1521.4 1007.5L1521.4 1027.9L1528.4 1038.1L1535.3 1027.9L1542.2 1017.7L1556.1 1017.7L1563.1 1007.5L1563.1 987.1L1570.0 976.9L1577.0 966.8L1570.0 956.6L1563.1 946.4L1570.0 936.2L1577.0 926.0L1570.0 915.8L1563.1 905.6L1570.0 895.5L1583.9 895.5L1597.8 895.5L1604.7 905.6L1611.7 915.8L1618.6 926.0L1618.6 946.4L1625.6 956.6L1632.5 966.8L1639.5 976.9L1653.3 976.9L1660.3 966.8L1667.2 956.6L1674.2 946.4L1681.1 936.2L1688.1 946.4L1688.1 966.8L1681.1 976.9L1674.2 987.1L1681.1 997.3L1688.1 1007.5L1688.1 1027.9L1688.1 1048.2L1688.1 1068.6L1695.0 1078.8L1701.9 1068.6L1708.9 1058.4L1712.4 1048.2L1715.8 1027.9L1715.8 1007.5L1722.8 997.3L1729.7 1007.5L1736.7 1017.7L1750.6 1017.7L1764.4 1017.7L1771.4 1007.5L1778.3 997.3L1785.3 987.1L1785.3 966.8L1785.3 946.4L1792.2 936.2L1799.2 926.0L1806.1 915.8L1813.0 926.0L1820.0 936.2L1833.9 936.2L1840.8 946.4L1847.8 956.6L1861.6 956.6L1868.6 946.4L1875.5 936.2L1882.5 946.4L1875.5 956.6L1868.6 966.8L1875.5 976.9L1882.5 987.1L1889.4 997.3L1903.3 997.3M1056.2 752.8L1070.1 751.2L1078.4 742.7L1083.0 722.3L1084.0 720.8L1086.2 722.3L1097.9 728.1L1111.7 728.8L1125.6 740.2L1127.2 742.7L1136.8 763.0L1139.5 764.2L1152.6 783.4L1153.4 788.3L1157.0 803.8L1154.9 824.1L1167.3 831.9L1174.3 824.1L1174.2 803.8L1176.8 783.4L1179.4 763.0L1181.2 753.9L1195.1 762.4L1195.5 763.0L1209.0 778.2L1212.3 783.4L1222.8 799.7L1230.2 803.8L1236.7 806.3L1250.6 810.5L1264.5 814.5L1278.4 814.0L1292.3 814.0L1306.2 814.0L1320.1 814.0L1327.0 824.1L1327.0 844.5L1327.0 864.9L1327.0 885.3L1327.0 905.6L1327.0 926.0L1333.9 936.2L1347.8 936.2L1354.8 926.0L1354.8 905.6L1354.8 885.3L1354.8 864.9L1354.8 844.5L1347.8 834.3L1340.9 824.1L1340.9 803.8L1333.9 793.6L1327.0 783.4L1320.1 773.2L1313.1 783.4L1306.2 793.6L1299.2 783.4L1292.3 773.2L1285.6 763.0L1285.3 742.7L1278.4 732.5L1273.9 722.3L1267.7 701.9M1410.3 742.7L1410.3 763.0L1410.3 783.4L1410.3 803.8L1417.3 814.0L1424.2 824.1L1431.1 834.3L1445.0 834.3L1452.0 844.5L1445.0 854.7L1431.1 854.7L1424.2 864.9L1431.1 875.1L1438.1 885.3L1445.0 895.5L1452.0 905.6L1445.0 915.8L1438.1 926.0L1445.0 936.2L1458.9 936.2L1465.9 926.0L1465.9 905.6L1472.8 895.5L1479.8 885.3L1479.8 864.9L1479.8 844.5L1479.8 824.1L1479.8 803.8L1472.8 793.6L1465.9 783.4L1458.9 773.2L1452.0 763.0L1452.0 752.8M1136.4 661.2L1139.5 680.6L1153.4 673.3L1167.3 679.3L1169.8 681.5L1167.3 684.3L1153.4 695.2L1141.6 701.9L1139.5 703.4L1138.8 701.9L1139.0 681.5L1125.6 676.2L1111.7 676.4L1101.3 661.2M1217.0 673.0L1209.0 679.5L1195.1 680.8L1181.2 668.6L1177.8 661.2L1178.1 656.6M1695.0 1506.6L1688.1 1496.5L1695.0 1486.3L1708.9 1486.3L1715.8 1496.5L1708.9 1506.6ZM1139.5 1486.3L1136.1 1476.1L1132.6 1455.7L1139.5 1445.5L1146.5 1455.7L1146.5 1476.1ZM1861.6 1445.5L1875.5 1445.5L1882.5 1435.3L1875.5 1425.1L1861.6 1425.1L1854.7 1435.3ZM1361.7 1425.1L1354.8 1415.0L1354.8 1394.6L1361.7 1384.4L1375.6 1384.4L1379.1 1394.6L1379.1 1415.0L1375.6 1425.1ZM1570.0 1384.4L1577.0 1374.2L1583.9 1364.0L1590.8 1353.8L1590.8 1333.5L1597.8 1323.3L1604.7 1313.1L1597.8 1302.9L1590.8 1292.7L1597.8 1282.5L1604.7 1272.4L1597.8 1262.2L1590.8 1252.0L1590.8 1231.6L1590.8 1211.2L1590.8 1190.9L1583.9 1180.7L1570.0 1180.7L1556.1 1180.7L1542.2 1180.7L1535.3 1190.9L1542.2 1201.0L1549.2 1211.2L1549.2 1231.6L1549.2 1252.0L1556.1 1262.2L1563.1 1272.4L1563.1 1292.7L1570.0 1302.9L1577.0 1313.1L1570.0 1323.3L1556.1 1323.3L1549.2 1333.5L1549.2 1353.8L1556.1 1364.0L1563.1 1374.2ZM1875.5 1384.4L1882.5 1374.2L1875.5 1364.0L1868.6 1374.2ZM1639.5 1364.0L1646.4 1353.8L1639.5 1343.7L1632.5 1353.8ZM1750.6 1364.0L1757.5 1353.8L1757.5 1333.5L1750.6 1323.3L1736.7 1323.3L1729.7 1333.5L1736.7 1343.7L1743.6 1353.8ZM1695.0 1323.3L1708.9 1323.3L1722.8 1323.3L1729.7 1313.1L1729.7 1292.7L1736.7 1282.5L1750.6 1282.5L1757.5 1272.4L1750.6 1262.2L1736.7 1262.2L1722.8 1262.2L1715.8 1252.0L1715.8 1231.6L1715.8 1211.2L1715.8 1190.9L1715.8 1170.5L1715.8 1150.1L1715.8 1129.7L1708.9 1119.6L1701.9 1109.4L1695.0 1099.2L1688.1 1109.4L1688.1 1129.7L1688.1 1150.1L1688.1 1170.5L1688.1 1190.9L1681.1 1201.0L1674.2 1211.2L1674.2 1231.6L1674.2 1252.0L1674.2 1272.4L1667.2 1282.5L1660.3 1272.4L1660.3 1252.0L1653.3 1241.8L1646.4 1252.0L1639.5 1262.2L1625.6 1262.2L1618.6 1272.4L1625.6 1282.5L1639.5 1282.5L1646.4 1292.7L1653.3 1302.9L1667.2 1302.9L1681.1 1302.9L1688.1 1313.1ZM1292.3 1302.9L1285.3 1292.7L1292.3 1282.5L1299.2 1292.7ZM1445.0 1241.8L1458.9 1241.8L1465.9 1231.6L1465.9 1211.2L1465.9 1190.9L1472.8 1180.7L1479.8 1170.5L1472.8 1160.3L1458.9 1160.3L1445.0 1160.3L1438.1 1170.5L1438.1 1190.9L1438.1 1211.2L1438.1 1231.6ZM1139.5 1160.3L1132.6 1150.1L1132.6 1129.7L1139.5 1119.6L1146.5 1109.4L1153.4 1099.2L1160.4 1109.4L1160.4 1129.7L1160.4 1150.1L1153.4 1160.3ZM1181.2 1160.3L1174.2 1150.1L1181.2 1139.9L1188.1 1150.1ZM1222.8 1160.3L1215.9 1150.1L1215.9 1129.7L1222.8 1119.6L1229.8 1129.7L1229.8 1150.1ZM1875.5 1119.6L1868.6 1109.4L1868.6 1089.0L1875.5 1078.8L1889.4 1078.8L1896.4 1089.0L1889.4 1099.2L1882.5 1109.4ZM1458.9 1078.8L1465.9 1068.6L1465.9 1048.2L1458.9 1038.1L1452.0 1048.2L1452.0 1068.6ZM1667.2 1017.7L1674.2 1007.5L1667.2 997.3L1660.3 1007.5ZM1347.8 997.3L1354.8 987.1L1361.7 976.9L1368.7 966.8L1361.7 956.6L1347.8 956.6L1340.9 966.8L1340.9 987.1ZM1542.2 956.6L1535.3 946.4L1535.3 926.0L1542.2 915.8L1549.2 926.0L1549.2 946.4ZM1097.9 936.2L1094.4 926.0L1094.4 905.6L1097.9 890.7L1104.8 905.6L1104.8 926.0ZM1722.8 875.1L1715.8 864.9L1722.8 854.7L1726.2 864.9ZM1084.0 661.8L1083.5 661.2L1084.0 660.5L1084.4 661.2ZM1660.3 1527.0L1653.3 1532.1L1639.5 1527.0L1625.6 1527.0L1618.6 1516.8L1611.7 1506.6L1604.7 1496.5L1597.8 1486.3L1590.8 1476.1L1583.9 1465.9L1577.0 1455.7L1570.0 1445.5L1563.1 1455.7L1556.1 1465.9L1549.2 1455.7L1542.2 1445.5L1528.4 1445.5L1521.4 1435.3L1514.5 1425.1L1500.6 1425.1L1486.7 1425.1L1472.8 1425.1L1465.9 1435.3L1458.9 1445.5L1452.0 1455.7L1452.0 1476.1L1458.9 1486.3L1465.9 1496.5L1465.9 1506.6M1701.9 1537.2L1695.0 1527.0L1688.1 1527.0M1743.6 1527.0L1743.6 1516.8L1736.7 1506.6L1722.8 1506.6L1715.8 1516.8L1715.8 1537.2M1882.5 1527.0L1882.5 1516.8L1875.5 1506.6L1868.6 1516.8L1861.6 1527.0L1854.7 1537.2M1205.5 1481.2L1202.0 1476.1L1209.0 1465.9L1222.8 1465.9L1236.7 1465.9L1243.7 1476.1L1243.7 1486.3M1393.0 1481.2L1393.0 1476.1L1393.0 1455.7L1396.4 1435.3L1403.4 1425.1L1410.3 1415.0L1403.4 1404.8L1396.4 1394.6L1389.5 1384.4L1386.0 1394.6L1386.0 1415.0L1382.5 1435.3L1382.5 1455.7L1375.6 1465.9L1368.7 1476.1M1354.8 1476.1L1354.8 1455.7L1347.8 1445.5L1333.9 1445.5L1320.1 1440.4L1313.1 1435.3L1306.2 1425.1L1292.3 1425.1L1285.3 1415.0L1278.4 1404.8L1271.4 1394.6L1264.5 1384.4L1250.6 1384.4L1243.7 1374.2L1236.7 1364.0L1229.8 1353.8L1236.7 1343.7L1243.7 1333.5L1250.6 1323.3L1257.6 1313.1L1250.6 1302.9L1243.7 1292.7L1250.6 1282.5L1264.5 1282.5L1271.4 1272.4L1271.4 1252.0L1264.5 1241.8L1250.6 1241.8L1236.7 1241.8L1229.8 1252.0L1222.8 1262.2L1209.0 1262.2L1202.0 1252.0L1202.0 1231.6L1202.0 1211.2L1202.0 1190.9L1195.1 1180.7L1188.1 1190.9L1181.2 1201.0L1174.2 1211.2L1181.2 1221.4L1188.1 1231.6L1188.1 1252.0L1188.1 1272.4L1195.1 1282.5L1209.0 1282.5L1215.9 1292.7L1215.9 1313.1L1215.9 1333.5L1209.0 1343.7L1202.0 1333.5L1195.1 1323.3L1181.2 1323.3L1174.2 1333.5L1167.3 1343.7L1153.4 1343.7L1146.5 1353.8L1139.5 1364.0L1132.6 1374.2L1139.5 1384.4L1146.5 1394.6L1153.4 1404.8L1160.4 1415.0L1160.4 1435.3L1160.4 1455.7L1160.4 1476.1L1160.4 1496.5L1160.4 1516.8L1153.4 1527.0L1139.5 1527.0L1136.1 1516.8L1132.6 1496.5L1129.1 1476.1L1125.6 1465.9L1118.7 1455.7L1125.6 1445.5L1132.6 1435.3L1125.6 1425.1L1118.7 1415.0L1111.7 1404.8L1097.9 1404.8L1084.0 1404.8L1080.5 1415.0L1084.0 1425.1L1090.9 1435.3L1097.9 1445.5L1104.8 1455.7L1108.3 1476.1L1108.3 1496.5L1104.8 1516.8L1097.9 1527.0L1090.9 1516.8L1084.0 1506.6L1077.0 1516.8L1070.1 1521.9M1056.2 1384.4L1070.1 1384.4L1077.0 1374.2L1084.0 1364.0L1090.9 1353.8L1084.0 1343.7L1070.1 1343.7L1056.2 1343.7M1903.3 1180.7L1896.4 1190.9L1889.4 1201.0L1875.5 1201.0L1861.6 1201.0L1847.8 1201.0L1833.9 1201.0L1820.0 1201.0L1813.0 1211.2L1820.0 1221.4L1826.9 1231.6L1833.9 1241.8L1840.8 1252.0L1847.8 1262.2L1854.7 1272.4L1854.7 1292.7L1861.6 1302.9L1868.6 1292.7L1875.5 1282.5L1889.4 1282.5L1903.3 1282.5M1458.9 1404.8L1465.9 1394.6L1465.9 1374.2L1465.9 1353.8L1465.9 1333.5L1458.9 1323.3L1445.0 1323.3L1431.1 1323.3L1424.2 1313.1L1417.3 1302.9L1410.3 1313.1L1403.4 1323.3L1396.4 1313.1L1389.5 1302.9L1382.5 1313.1L1382.5 1333.5L1382.5 1353.8L1389.5 1364.0L1396.4 1374.2L1403.4 1384.4L1417.3 1384.4L1424.2 1374.2L1424.2 1353.8L1431.1 1343.7L1438.1 1353.8L1438.1 1374.2L1445.0 1384.4L1452.0 1394.6ZM1347.8 1364.0L1361.7 1364.0L1368.7 1353.8L1368.7 1333.5L1361.7 1323.3L1354.8 1313.1L1361.7 1302.9L1368.7 1292.7L1368.7 1272.4L1361.7 1262.2L1354.8 1272.4L1347.8 1282.5L1340.9 1292.7L1340.9 1313.1L1340.9 1333.5L1340.9 1353.8ZM1695.0 1302.9L1708.9 1302.9L1715.8 1292.7L1708.9 1282.5L1695.0 1282.5L1688.1 1292.7ZM1292.3 1241.8L1299.2 1231.6L1299.2 1211.2L1299.2 1190.9L1292.3 1180.7L1285.3 1190.9L1285.3 1211.2L1285.3 1231.6ZM1236.7 1201.0L1243.7 1190.9L1236.7 1180.7L1229.8 1190.9ZM1195.1 1139.9L1202.0 1129.7L1202.0 1109.4L1202.0 1089.0L1195.1 1078.8L1188.1 1089.0L1188.1 1109.4L1188.1 1129.7ZM1097.9 1119.6L1104.8 1109.4L1111.7 1099.2L1118.7 1109.4L1125.6 1119.6L1132.6 1109.4L1132.6 1089.0L1139.5 1078.8L1146.5 1068.6L1146.5 1048.2L1153.4 1038.1L1167.3 1038.1L1174.2 1027.9L1174.2 1007.5L1174.2 987.1L1174.2 966.8L1167.3 956.6L1160.4 966.8L1160.4 987.1L1153.4 997.3L1139.5 997.3L1136.1 987.1L1139.5 976.9L1146.5 966.8L1139.5 956.6L1125.6 956.6L1118.7 966.8L1111.7 976.9L1104.8 987.1L1104.8 1007.5L1097.9 1017.7L1090.9 1007.5L1094.4 987.1L1095.5 966.8L1094.4 946.4L1087.4 926.0L1087.4 905.6L1089.2 885.3L1084.0 874.0L1080.5 885.3L1077.0 905.6L1077.0 926.0L1070.1 936.2L1063.1 946.4L1066.6 966.8L1070.1 976.9L1073.6 987.1L1080.5 1007.5L1080.5 1027.9L1084.0 1038.1L1090.9 1048.2L1090.9 1068.6L1090.9 1089.0L1090.9 1109.4ZM1167.3 1099.2L1174.2 1089.0L1167.3 1078.8L1160.4 1089.0ZM1250.6 1078.8L1257.6 1068.6L1250.6 1058.4L1243.7 1068.6ZM1695.0 997.3L1708.9 997.3L1715.8 987.1L1715.8 966.8L1708.9 956.6L1701.9 966.8L1695.0 976.9L1688.1 987.1ZM1750.6 956.6L1764.4 956.6L1771.4 946.4L1771.4 926.0L1764.4 915.8L1750.6 915.8L1743.6 926.0L1743.6 946.4ZM1653.3 915.8L1667.2 915.8L1674.2 905.6L1674.2 885.3L1674.2 864.9L1681.1 854.7L1688.1 844.5L1688.1 824.1L1681.1 814.0L1667.2 814.0L1660.3 803.8L1653.3 793.6L1639.5 793.6L1625.6 793.6L1618.6 803.8L1611.7 814.0L1597.8 814.0L1590.8 803.8L1583.9 793.6L1577.0 783.4L1570.0 773.2L1556.1 773.2L1549.2 783.4L1542.2 793.6L1528.4 793.6L1521.4 803.8L1514.5 814.0L1507.5 824.1L1507.5 844.5L1507.5 864.9L1514.5 875.1L1528.4 875.1L1535.3 864.9L1542.2 859.8L1549.2 864.9L1556.1 875.1L1570.0 875.1L1577.0 864.9L1583.9 854.7L1597.8 854.7L1604.7 864.9L1604.7 885.3L1611.7 895.5L1625.6 895.5L1639.5 895.5L1646.4 905.6ZM1778.3 915.8L1792.2 915.8L1799.2 905.6L1792.2 895.5L1785.3 885.3L1792.2 875.1L1806.1 875.1L1820.0 875.1L1833.9 875.1L1847.8 875.1L1861.6 875.1L1868.6 864.9L1868.6 844.5L1861.6 839.4L1847.8 834.3L1833.9 834.3L1820.0 834.3L1813.0 844.5L1806.1 854.7L1799.2 844.5L1792.2 834.3L1778.3 834.3L1771.4 844.5L1764.4 854.7L1750.6 854.7L1743.6 844.5L1736.7 834.3L1729.7 844.5L1733.2 864.9L1736.7 875.1L1750.6 875.1L1757.5 885.3L1764.4 895.5L1771.4 905.6ZM1458.9 814.0L1465.9 803.8L1458.9 793.6L1452.0 803.8ZM1250.6 788.3L1264.5 792.3L1271.2 783.4L1268.6 763.0L1264.5 749.2L1262.9 742.7L1264.5 730.2L1265.0 722.3L1264.5 720.3L1254.2 701.9L1250.6 695.7L1236.7 700.7L1222.8 695.7L1214.3 701.9L1209.0 706.3L1195.1 713.6L1187.3 722.3L1195.1 729.0L1209.0 741.3L1210.5 742.7L1222.8 756.8L1225.5 763.0L1236.7 778.7L1243.0 783.4ZM1445.0 793.6L1452.0 783.4L1445.0 773.2L1438.1 783.4ZM1153.4 743.1L1155.5 742.7L1153.4 742.0L1153.0 742.7ZM1167.3 739.5L1176.6 722.3L1167.3 714.8L1160.5 722.3ZM1090.9 1537.2L1084.0 1527.0L1070.1 1532.1M1132.6 1537.2L1129.1 1516.8L1125.6 1506.6L1118.7 1516.8L1111.7 1527.0L1104.8 1537.2M1198.5 1491.4L1195.1 1486.3L1188.1 1496.5M1563.1 1496.5L1556.1 1486.3L1549.2 1496.5L1542.2 1506.6L1535.3 1506.6M1313.1 1465.9L1320.1 1465.9L1327.0 1455.7L1320.1 1450.6L1306.2 1445.5L1292.3 1445.5L1285.3 1435.3L1278.4 1425.1L1264.5 1425.1L1257.6 1435.3L1257.6 1455.7L1257.6 1476.1L1257.6 1486.3M1903.3 1221.4L1889.4 1221.4L1882.5 1231.6L1882.5 1252.0L1889.4 1262.2L1903.3 1262.2M1111.7 1078.8L1125.6 1078.8L1132.6 1068.6L1132.6 1048.2L1125.6 1038.1L1111.7 1038.1L1104.8 1048.2L1104.8 1068.6ZM1084.0 997.3L1087.4 987.1L1090.9 966.8L1087.4 946.4L1084.0 936.2L1077.0 946.4L1073.6 966.8L1080.5 987.1ZM1125.6 997.3L1129.1 987.1L1125.6 976.9L1118.7 987.1ZM1653.3 895.5L1660.3 885.3L1663.8 864.9L1663.8 844.5L1660.3 824.1L1653.3 814.0L1646.4 824.1L1639.5 834.3L1632.5 844.5L1625.6 854.7L1618.6 864.9L1625.6 875.1L1639.5 875.1L1646.4 885.3ZM1528.4 854.7L1542.2 849.6L1556.1 854.7L1563.1 844.5L1556.1 834.3L1549.2 824.1L1542.2 814.0L1528.4 814.0L1521.4 824.1L1521.4 844.5ZM1556.1 814.0L1563.1 803.8L1556.1 793.6L1549.2 803.8ZM1084.0 976.9L1086.3 966.8L1084.0 956.6L1080.5 966.8ZM1653.3 875.1L1656.8 864.9L1656.8 844.5L1653.3 834.3L1646.4 844.5L1646.4 864.9Z" fill="none" stroke="#000" stroke-width="1.7" stroke-linejoin="round"/>
<rect x="279.5" y="131.5" width="1666.1" height="1426.1" fill="none" stroke="#262626" stroke-width="2"/>
<line x1="417.4" y1="1557.6" x2="417.4" y2="1540.6" stroke="#262626" stroke-width="2"/>
<line x1="417.4" y1="131.5" x2="417.4" y2="148.5" stroke="#262626" stroke-width="2"/>
<text transform="translate(417.40,1643.50) scale(1.0,1.055)" text-anchor="middle" class="t">0</text>
<line x1="695.1" y1="1557.6" x2="695.1" y2="1540.6" stroke="#262626" stroke-width="2"/>
<line x1="695.1" y1="131.5" x2="695.1" y2="148.5" stroke="#262626" stroke-width="2"/>
<text transform="translate(695.14,1643.50) scale(1.0,1.055)" text-anchor="middle" class="t">2</text>
<line x1="972.9" y1="1557.6" x2="972.9" y2="1540.6" stroke="#262626" stroke-width="2"/>
<line x1="972.9" y1="131.5" x2="972.9" y2="148.5" stroke="#262626" stroke-width="2"/>
<text transform="translate(972.88,1643.50) scale(1.0,1.055)" text-anchor="middle" class="t">4</text>
<line x1="1250.6" y1="1557.6" x2="1250.6" y2="1540.6" stroke="#262626" stroke-width="2"/>
<line x1="1250.6" y1="131.5" x2="1250.6" y2="148.5" stroke="#262626" stroke-width="2"/>
<text transform="translate(1250.62,1643.50) scale(1.0,1.055)" text-anchor="middle" class="t">6</text>
<line x1="1528.4" y1="1557.6" x2="1528.4" y2="1540.6" stroke="#262626" stroke-width="2"/>
<line x1="1528.4" y1="131.5" x2="1528.4" y2="148.5" stroke="#262626" stroke-width="2"/>
<text transform="translate(1528.36,1643.50) scale(1.0,1.055)" text-anchor="middle" class="t">8</text>
<line x1="1806.1" y1="1557.6" x2="1806.1" y2="1540.6" stroke="#262626" stroke-width="2"/>
<line x1="1806.1" y1="131.5" x2="1806.1" y2="148.5" stroke="#262626" stroke-width="2"/>
<text transform="translate(1806.10,1643.50) scale(1.0,1.055)" text-anchor="middle" class="t">10</text>
<line x1="279.5" y1="1557.6" x2="296.5" y2="1557.6" stroke="#262626" stroke-width="2"/>
<line x1="1945.6" y1="1557.6" x2="1928.6" y2="1557.6" stroke="#262626" stroke-width="2"/>
<text transform="translate(255.80,1582.30) scale(1.0,1.055)" text-anchor="end" class="t">80</text>
<line x1="279.5" y1="1353.9" x2="296.5" y2="1353.9" stroke="#262626" stroke-width="2"/>
<line x1="1945.6" y1="1353.9" x2="1928.6" y2="1353.9" stroke="#262626" stroke-width="2"/>
<text transform="translate(255.80,1378.57) scale(1.0,1.055)" text-anchor="end" class="t">85</text>
<line x1="279.5" y1="1150.1" x2="296.5" y2="1150.1" stroke="#262626" stroke-width="2"/>
<line x1="1945.6" y1="1150.1" x2="1928.6" y2="1150.1" stroke="#262626" stroke-width="2"/>
<text transform="translate(255.80,1174.84) scale(1.0,1.055)" text-anchor="end" class="t">90</text>
<line x1="279.5" y1="946.4" x2="296.5" y2="946.4" stroke="#262626" stroke-width="2"/>
<line x1="1945.6" y1="946.4" x2="1928.6" y2="946.4" stroke="#262626" stroke-width="2"/>
<text transform="translate(255.80,971.11) scale(1.0,1.055)" text-anchor="end" class="t">95</text>
<line x1="279.5" y1="742.7" x2="296.5" y2="742.7" stroke="#262626" stroke-width="2"/>
<line x1="1945.6" y1="742.7" x2="1928.6" y2="742.7" stroke="#262626" stroke-width="2"/>
<text transform="translate(255.80,767.38) scale(1.0,1.055)" text-anchor="end" class="t">100</text>
<line x1="279.5" y1="538.9" x2="296.5" y2="538.9" stroke="#262626" stroke-width="2"/>
<line x1="1945.6" y1="538.9" x2="1928.6" y2="538.9" stroke="#262626" stroke-width="2"/>
<text transform="translate(255.80,563.65) scale(1.0,1.055)" text-anchor="end" class="t">105</text>
<line x1="279.5" y1="335.2" x2="296.5" y2="335.2" stroke="#262626" stroke-width="2"/>
<line x1="1945.6" y1="335.2" x2="1928.6" y2="335.2" stroke="#262626" stroke-width="2"/>
<text transform="translate(255.80,359.92) scale(1.0,1.055)" text-anchor="end" class="t">110</text>
<line x1="279.5" y1="131.5" x2="296.5" y2="131.5" stroke="#262626" stroke-width="2"/>
<line x1="1945.6" y1="131.5" x2="1928.6" y2="131.5" stroke="#262626" stroke-width="2"/>
<text transform="translate(255.80,156.19) scale(1.0,1.055)" text-anchor="end" class="t">115</text>
<text transform="translate(1113.00,1732.20) scale(0.961,0.99)" text-anchor="middle" class="l">UT (Hour)</text>
<text transform="translate(117.00,843.60) rotate(-90) scale(0.987,1.0)" text-anchor="middle" class="l">Altitude (km)</text>
<text transform="translate(1106.65,110.80) scale(0.974,0.985)" text-anchor="middle" class="ti">Zonal Wind 20190601</text>
<rect x="1978.5" y="1439.70" width="67.8" height="119.50" fill="#0000AA"/>
<rect x="1978.5" y="1320.70" width="67.8" height="119.50" fill="#0000FF"/>
<rect x="1978.5" y="1201.70" width="67.8" height="119.50" fill="#0055FF"/>
<rect x="1978.5" y="1082.70" width="67.8" height="119.50" fill="#00AAFF"/>
<rect x="1978.5" y="963.70" width="67.8" height="119.50" fill="#00FFFF"/>
<rect x="1978.5" y="844.70" width="67.8" height="119.50" fill="#55FFAA"/>
<rect x="1978.5" y="725.70" width="67.8" height="119.50" fill="#AAFF55"/>
<rect x="1978.5" y="606.70" width="67.8" height="119.50" fill="#FFFF00"/>
<rect x="1978.5" y="487.70" width="67.8" height="119.50" fill="#FFAA00"/>
<rect x="1978.5" y="368.70" width="67.8" height="119.50" fill="#FF5500"/>
<rect x="1978.5" y="249.70" width="67.8" height="119.50" fill="#FF0000"/>
<rect x="1978.5" y="130.70" width="67.8" height="119.50" fill="#AA0000"/>
<line x1="2046.3" y1="1439.7" x2="2032.3" y2="1439.7" stroke="#262626" stroke-width="2"/>
<text transform="translate(2066.20,1462.20) scale(1.006,1.028)" class="c">-100</text>
<line x1="2046.3" y1="1320.7" x2="2032.3" y2="1320.7" stroke="#262626" stroke-width="2"/>
<text transform="translate(2066.20,1343.20) scale(1.006,1.028)" class="c">-80</text>
<line x1="2046.3" y1="1201.7" x2="2032.3" y2="1201.7" stroke="#262626" stroke-width="2"/>
<text transform="translate(2066.20,1224.20) scale(1.006,1.028)" class="c">-60</text>
<line x1="2046.3" y1="1082.7" x2="2032.3" y2="1082.7" stroke="#262626" stroke-width="2"/>
<text transform="translate(2066.20,1105.20) scale(1.006,1.028)" class="c">-40</text>
<line x1="2046.3" y1="963.7" x2="2032.3" y2="963.7" stroke="#262626" stroke-width="2"/>
<text transform="translate(2066.20,986.20) scale(1.006,1.028)" class="c">-20</text>
<line x1="2046.3" y1="844.7" x2="2032.3" y2="844.7" stroke="#262626" stroke-width="2"/>
<text transform="translate(2066.20,867.20) scale(1.006,1.028)" class="c">0</text>
<line x1="2046.3" y1="725.7" x2="2032.3" y2="725.7" stroke="#262626" stroke-width="2"/>
<text transform="translate(2066.20,748.20) scale(1.006,1.028)" class="c">20</text>
<line x1="2046.3" y1="606.7" x2="2032.3" y2="606.7" stroke="#262626" stroke-width="2"/>
<text transform="translate(2066.20,629.20) scale(1.006,1.028)" class="c">40</text>
<line x1="2046.3" y1="487.7" x2="2032.3" y2="487.7" stroke="#262626" stroke-width="2"/>
<text transform="translate(2066.20,510.20) scale(1.006,1.028)" class="c">60</text>
<line x1="2046.3" y1="368.7" x2="2032.3" y2="368.7" stroke="#262626" stroke-width="2"/>
<text transform="translate(2066.20,391.20) scale(1.006,1.028)" class="c">80</text>
<line x1="2046.3" y1="249.7" x2="2032.3" y2="249.7" stroke="#262626" stroke-width="2"/>
<text transform="translate(2066.20,272.20) scale(1.006,1.028)" class="c">100</text>
<rect x="1978.5" y="130.7" width="67.8" height="1428.0" fill="none" stroke="#262626" stroke-width="2"/>
</svg>
</body></html>
